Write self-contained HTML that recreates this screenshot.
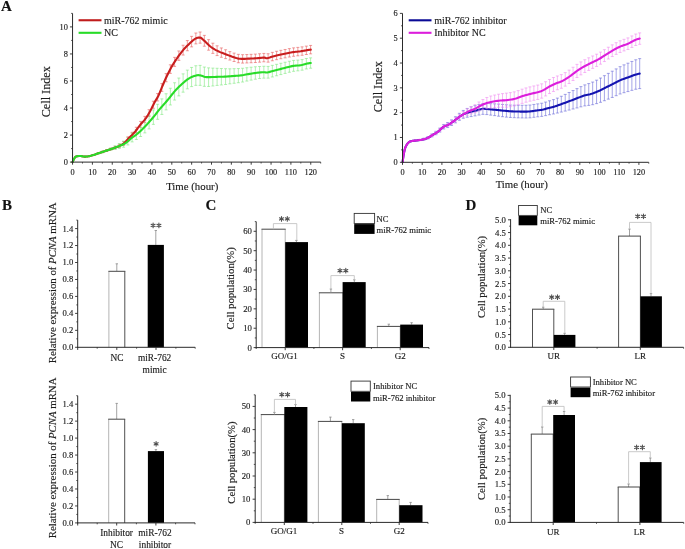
<!DOCTYPE html>
<html><head><meta charset="utf-8"><style>
html,body{margin:0;padding:0;background:#fff;}
svg{display:block;font-family:"Liberation Serif",serif;will-change:transform;filter:blur(0.3px);}
text{stroke:#1c1c1c;stroke-width:0.15px;paint-order:stroke;}
</style></head><body>
<svg width="685" height="549" viewBox="0 0 685 549">
<rect x="0" y="0" width="685" height="549" fill="#fff"/>
<text x="1.00" y="11.30" font-size="15" text-anchor="start" font-weight="bold" fill="#111" >A</text>
<text x="2.00" y="209.90" font-size="15" text-anchor="start" font-weight="bold" fill="#111" >B</text>
<text x="205.60" y="210.10" font-size="15" text-anchor="start" font-weight="bold" fill="#111" >C</text>
<text x="465.60" y="209.80" font-size="15" text-anchor="start" font-weight="bold" fill="#111" >D</text>
<text x="72.55" y="174.60" font-size="8.3" text-anchor="middle" font-weight="normal" fill="#1c1c1c" >0</text>
<text x="92.40" y="174.60" font-size="8.3" text-anchor="middle" font-weight="normal" fill="#1c1c1c" >10</text>
<text x="112.25" y="174.60" font-size="8.3" text-anchor="middle" font-weight="normal" fill="#1c1c1c" >20</text>
<text x="132.10" y="174.60" font-size="8.3" text-anchor="middle" font-weight="normal" fill="#1c1c1c" >30</text>
<text x="151.95" y="174.60" font-size="8.3" text-anchor="middle" font-weight="normal" fill="#1c1c1c" >40</text>
<text x="171.80" y="174.60" font-size="8.3" text-anchor="middle" font-weight="normal" fill="#1c1c1c" >50</text>
<text x="191.65" y="174.60" font-size="8.3" text-anchor="middle" font-weight="normal" fill="#1c1c1c" >60</text>
<text x="211.50" y="174.60" font-size="8.3" text-anchor="middle" font-weight="normal" fill="#1c1c1c" >70</text>
<text x="231.35" y="174.60" font-size="8.3" text-anchor="middle" font-weight="normal" fill="#1c1c1c" >80</text>
<text x="251.20" y="174.60" font-size="8.3" text-anchor="middle" font-weight="normal" fill="#1c1c1c" >90</text>
<text x="271.05" y="174.60" font-size="8.3" text-anchor="middle" font-weight="normal" fill="#1c1c1c" >100</text>
<text x="290.90" y="174.60" font-size="8.3" text-anchor="middle" font-weight="normal" fill="#1c1c1c" >110</text>
<text x="310.75" y="174.60" font-size="8.3" text-anchor="middle" font-weight="normal" fill="#1c1c1c" >120</text>
<text x="192.20" y="189.60" font-size="10.8" text-anchor="middle" font-weight="normal" fill="#1c1c1c" >Time (hour)</text>
<text x="49.80" y="91.70" font-size="12.2" text-anchor="middle" font-weight="normal" fill="#1c1c1c" transform="rotate(-90 49.80 91.70)" >Cell Index</text>
<line x1="310.60" y1="45.43" x2="310.60" y2="53.83" stroke="#e65a5a" stroke-width="0.6" opacity="1.0"/>
<line x1="309.10" y1="45.43" x2="312.10" y2="45.43" stroke="#e65a5a" stroke-width="0.6" opacity="1.0"/>
<line x1="309.10" y1="53.83" x2="312.10" y2="53.83" stroke="#e65a5a" stroke-width="0.6" opacity="1.0"/>
<line x1="306.35" y1="46.11" x2="306.35" y2="54.51" stroke="#e65a5a" stroke-width="0.6" opacity="1.0"/>
<line x1="304.85" y1="46.11" x2="307.85" y2="46.11" stroke="#e65a5a" stroke-width="0.6" opacity="1.0"/>
<line x1="304.85" y1="54.51" x2="307.85" y2="54.51" stroke="#e65a5a" stroke-width="0.6" opacity="1.0"/>
<line x1="302.10" y1="46.87" x2="302.10" y2="55.27" stroke="#e65a5a" stroke-width="0.6" opacity="1.0"/>
<line x1="300.60" y1="46.87" x2="303.60" y2="46.87" stroke="#e65a5a" stroke-width="0.6" opacity="1.0"/>
<line x1="300.60" y1="55.27" x2="303.60" y2="55.27" stroke="#e65a5a" stroke-width="0.6" opacity="1.0"/>
<line x1="297.85" y1="47.40" x2="297.85" y2="55.80" stroke="#e65a5a" stroke-width="0.6" opacity="1.0"/>
<line x1="296.35" y1="47.40" x2="299.35" y2="47.40" stroke="#e65a5a" stroke-width="0.6" opacity="1.0"/>
<line x1="296.35" y1="55.80" x2="299.35" y2="55.80" stroke="#e65a5a" stroke-width="0.6" opacity="1.0"/>
<line x1="293.60" y1="47.86" x2="293.60" y2="56.26" stroke="#e65a5a" stroke-width="0.6" opacity="1.0"/>
<line x1="292.10" y1="47.86" x2="295.10" y2="47.86" stroke="#e65a5a" stroke-width="0.6" opacity="1.0"/>
<line x1="292.10" y1="56.26" x2="295.10" y2="56.26" stroke="#e65a5a" stroke-width="0.6" opacity="1.0"/>
<line x1="289.35" y1="48.62" x2="289.35" y2="57.02" stroke="#e65a5a" stroke-width="0.6" opacity="1.0"/>
<line x1="287.85" y1="48.62" x2="290.85" y2="48.62" stroke="#e65a5a" stroke-width="0.6" opacity="1.0"/>
<line x1="287.85" y1="57.02" x2="290.85" y2="57.02" stroke="#e65a5a" stroke-width="0.6" opacity="1.0"/>
<line x1="285.10" y1="49.48" x2="285.10" y2="57.88" stroke="#e65a5a" stroke-width="0.6" opacity="1.0"/>
<line x1="283.60" y1="49.48" x2="286.60" y2="49.48" stroke="#e65a5a" stroke-width="0.6" opacity="1.0"/>
<line x1="283.60" y1="57.88" x2="286.60" y2="57.88" stroke="#e65a5a" stroke-width="0.6" opacity="1.0"/>
<line x1="280.85" y1="50.34" x2="280.85" y2="58.74" stroke="#e65a5a" stroke-width="0.6" opacity="1.0"/>
<line x1="279.35" y1="50.34" x2="282.35" y2="50.34" stroke="#e65a5a" stroke-width="0.6" opacity="1.0"/>
<line x1="279.35" y1="58.74" x2="282.35" y2="58.74" stroke="#e65a5a" stroke-width="0.6" opacity="1.0"/>
<line x1="276.60" y1="51.27" x2="276.60" y2="59.67" stroke="#e65a5a" stroke-width="0.6" opacity="1.0"/>
<line x1="275.10" y1="51.27" x2="278.10" y2="51.27" stroke="#e65a5a" stroke-width="0.6" opacity="1.0"/>
<line x1="275.10" y1="59.67" x2="278.10" y2="59.67" stroke="#e65a5a" stroke-width="0.6" opacity="1.0"/>
<line x1="272.35" y1="52.37" x2="272.35" y2="60.77" stroke="#e65a5a" stroke-width="0.6" opacity="1.0"/>
<line x1="270.85" y1="52.37" x2="273.85" y2="52.37" stroke="#e65a5a" stroke-width="0.6" opacity="1.0"/>
<line x1="270.85" y1="60.77" x2="273.85" y2="60.77" stroke="#e65a5a" stroke-width="0.6" opacity="1.0"/>
<line x1="268.10" y1="53.75" x2="268.10" y2="62.15" stroke="#e65a5a" stroke-width="0.6" opacity="1.0"/>
<line x1="266.60" y1="53.75" x2="269.60" y2="53.75" stroke="#e65a5a" stroke-width="0.6" opacity="1.0"/>
<line x1="266.60" y1="62.15" x2="269.60" y2="62.15" stroke="#e65a5a" stroke-width="0.6" opacity="1.0"/>
<line x1="263.85" y1="53.41" x2="263.85" y2="61.81" stroke="#e65a5a" stroke-width="0.6" opacity="1.0"/>
<line x1="262.35" y1="53.41" x2="265.35" y2="53.41" stroke="#e65a5a" stroke-width="0.6" opacity="1.0"/>
<line x1="262.35" y1="61.81" x2="265.35" y2="61.81" stroke="#e65a5a" stroke-width="0.6" opacity="1.0"/>
<line x1="259.60" y1="53.76" x2="259.60" y2="62.16" stroke="#e65a5a" stroke-width="0.6" opacity="1.0"/>
<line x1="258.10" y1="53.76" x2="261.10" y2="53.76" stroke="#e65a5a" stroke-width="0.6" opacity="1.0"/>
<line x1="258.10" y1="62.16" x2="261.10" y2="62.16" stroke="#e65a5a" stroke-width="0.6" opacity="1.0"/>
<line x1="255.35" y1="54.10" x2="255.35" y2="62.50" stroke="#e65a5a" stroke-width="0.6" opacity="1.0"/>
<line x1="253.85" y1="54.10" x2="256.85" y2="54.10" stroke="#e65a5a" stroke-width="0.6" opacity="1.0"/>
<line x1="253.85" y1="62.50" x2="256.85" y2="62.50" stroke="#e65a5a" stroke-width="0.6" opacity="1.0"/>
<line x1="251.10" y1="54.34" x2="251.10" y2="62.74" stroke="#e65a5a" stroke-width="0.6" opacity="1.0"/>
<line x1="249.60" y1="54.34" x2="252.60" y2="54.34" stroke="#e65a5a" stroke-width="0.6" opacity="1.0"/>
<line x1="249.60" y1="62.74" x2="252.60" y2="62.74" stroke="#e65a5a" stroke-width="0.6" opacity="1.0"/>
<line x1="246.85" y1="54.54" x2="246.85" y2="62.94" stroke="#e65a5a" stroke-width="0.6" opacity="1.0"/>
<line x1="245.35" y1="54.54" x2="248.35" y2="54.54" stroke="#e65a5a" stroke-width="0.6" opacity="1.0"/>
<line x1="245.35" y1="62.94" x2="248.35" y2="62.94" stroke="#e65a5a" stroke-width="0.6" opacity="1.0"/>
<line x1="242.60" y1="54.69" x2="242.60" y2="63.09" stroke="#e65a5a" stroke-width="0.6" opacity="1.0"/>
<line x1="241.10" y1="54.69" x2="244.10" y2="54.69" stroke="#e65a5a" stroke-width="0.6" opacity="1.0"/>
<line x1="241.10" y1="63.09" x2="244.10" y2="63.09" stroke="#e65a5a" stroke-width="0.6" opacity="1.0"/>
<line x1="238.35" y1="54.34" x2="238.35" y2="62.74" stroke="#e65a5a" stroke-width="0.6" opacity="1.0"/>
<line x1="236.85" y1="54.34" x2="239.85" y2="54.34" stroke="#e65a5a" stroke-width="0.6" opacity="1.0"/>
<line x1="236.85" y1="62.74" x2="239.85" y2="62.74" stroke="#e65a5a" stroke-width="0.6" opacity="1.0"/>
<line x1="234.10" y1="53.10" x2="234.10" y2="61.50" stroke="#e65a5a" stroke-width="0.6" opacity="1.0"/>
<line x1="232.60" y1="53.10" x2="235.60" y2="53.10" stroke="#e65a5a" stroke-width="0.6" opacity="1.0"/>
<line x1="232.60" y1="61.50" x2="235.60" y2="61.50" stroke="#e65a5a" stroke-width="0.6" opacity="1.0"/>
<line x1="229.85" y1="51.62" x2="229.85" y2="60.04" stroke="#e65a5a" stroke-width="0.6" opacity="1.0"/>
<line x1="228.35" y1="51.62" x2="231.35" y2="51.62" stroke="#e65a5a" stroke-width="0.6" opacity="1.0"/>
<line x1="228.35" y1="60.04" x2="231.35" y2="60.04" stroke="#e65a5a" stroke-width="0.6" opacity="1.0"/>
<line x1="225.60" y1="49.77" x2="225.60" y2="58.63" stroke="#e65a5a" stroke-width="0.6" opacity="1.0"/>
<line x1="224.10" y1="49.77" x2="227.10" y2="49.77" stroke="#e65a5a" stroke-width="0.6" opacity="1.0"/>
<line x1="224.10" y1="58.63" x2="227.10" y2="58.63" stroke="#e65a5a" stroke-width="0.6" opacity="1.0"/>
<line x1="221.35" y1="47.96" x2="221.35" y2="57.28" stroke="#e65a5a" stroke-width="0.6" opacity="1.0"/>
<line x1="219.85" y1="47.96" x2="222.85" y2="47.96" stroke="#e65a5a" stroke-width="0.6" opacity="1.0"/>
<line x1="219.85" y1="57.28" x2="222.85" y2="57.28" stroke="#e65a5a" stroke-width="0.6" opacity="1.0"/>
<line x1="217.10" y1="45.81" x2="217.10" y2="55.59" stroke="#e65a5a" stroke-width="0.6" opacity="1.0"/>
<line x1="215.60" y1="45.81" x2="218.60" y2="45.81" stroke="#e65a5a" stroke-width="0.6" opacity="1.0"/>
<line x1="215.60" y1="55.59" x2="218.60" y2="55.59" stroke="#e65a5a" stroke-width="0.6" opacity="1.0"/>
<line x1="212.85" y1="43.20" x2="212.85" y2="53.38" stroke="#e65a5a" stroke-width="0.6" opacity="1.0"/>
<line x1="211.35" y1="43.20" x2="214.35" y2="43.20" stroke="#e65a5a" stroke-width="0.6" opacity="1.0"/>
<line x1="211.35" y1="53.38" x2="214.35" y2="53.38" stroke="#e65a5a" stroke-width="0.6" opacity="1.0"/>
<line x1="208.60" y1="39.66" x2="208.60" y2="50.17" stroke="#e65a5a" stroke-width="0.6" opacity="1.0"/>
<line x1="207.10" y1="39.66" x2="210.10" y2="39.66" stroke="#e65a5a" stroke-width="0.6" opacity="1.0"/>
<line x1="207.10" y1="50.17" x2="210.10" y2="50.17" stroke="#e65a5a" stroke-width="0.6" opacity="1.0"/>
<line x1="204.35" y1="35.37" x2="204.35" y2="46.22" stroke="#e65a5a" stroke-width="0.6" opacity="1.0"/>
<line x1="202.85" y1="35.37" x2="205.85" y2="35.37" stroke="#e65a5a" stroke-width="0.6" opacity="1.0"/>
<line x1="202.85" y1="46.22" x2="205.85" y2="46.22" stroke="#e65a5a" stroke-width="0.6" opacity="1.0"/>
<line x1="200.10" y1="32.00" x2="200.10" y2="43.20" stroke="#e65a5a" stroke-width="0.6" opacity="1.0"/>
<line x1="198.60" y1="32.00" x2="201.60" y2="32.00" stroke="#e65a5a" stroke-width="0.6" opacity="1.0"/>
<line x1="198.60" y1="43.20" x2="201.60" y2="43.20" stroke="#e65a5a" stroke-width="0.6" opacity="1.0"/>
<line x1="195.85" y1="33.02" x2="195.85" y2="43.89" stroke="#e65a5a" stroke-width="0.6" opacity="1.0"/>
<line x1="194.35" y1="33.02" x2="197.35" y2="33.02" stroke="#e65a5a" stroke-width="0.6" opacity="1.0"/>
<line x1="194.35" y1="43.89" x2="197.35" y2="43.89" stroke="#e65a5a" stroke-width="0.6" opacity="1.0"/>
<line x1="191.60" y1="36.36" x2="191.60" y2="46.89" stroke="#e65a5a" stroke-width="0.6" opacity="1.0"/>
<line x1="190.10" y1="36.36" x2="193.10" y2="36.36" stroke="#e65a5a" stroke-width="0.6" opacity="1.0"/>
<line x1="190.10" y1="46.89" x2="193.10" y2="46.89" stroke="#e65a5a" stroke-width="0.6" opacity="1.0"/>
<line x1="187.35" y1="40.56" x2="187.35" y2="50.75" stroke="#e65a5a" stroke-width="0.6" opacity="1.0"/>
<line x1="185.85" y1="40.56" x2="188.85" y2="40.56" stroke="#e65a5a" stroke-width="0.6" opacity="1.0"/>
<line x1="185.85" y1="50.75" x2="188.85" y2="50.75" stroke="#e65a5a" stroke-width="0.6" opacity="1.0"/>
<line x1="183.10" y1="45.23" x2="183.10" y2="55.05" stroke="#e65a5a" stroke-width="0.6" opacity="1.0"/>
<line x1="181.60" y1="45.23" x2="184.60" y2="45.23" stroke="#e65a5a" stroke-width="0.6" opacity="1.0"/>
<line x1="181.60" y1="55.05" x2="184.60" y2="55.05" stroke="#e65a5a" stroke-width="0.6" opacity="1.0"/>
<line x1="178.85" y1="50.98" x2="178.85" y2="60.39" stroke="#e65a5a" stroke-width="0.6" opacity="1.0"/>
<line x1="177.35" y1="50.98" x2="180.35" y2="50.98" stroke="#e65a5a" stroke-width="0.6" opacity="1.0"/>
<line x1="177.35" y1="60.39" x2="180.35" y2="60.39" stroke="#e65a5a" stroke-width="0.6" opacity="1.0"/>
<line x1="174.60" y1="57.36" x2="174.60" y2="66.36" stroke="#e65a5a" stroke-width="0.6" opacity="1.0"/>
<line x1="173.10" y1="57.36" x2="176.10" y2="57.36" stroke="#e65a5a" stroke-width="0.6" opacity="1.0"/>
<line x1="173.10" y1="66.36" x2="176.10" y2="66.36" stroke="#e65a5a" stroke-width="0.6" opacity="1.0"/>
<line x1="170.35" y1="64.80" x2="170.35" y2="73.39" stroke="#e65a5a" stroke-width="0.6" opacity="1.0"/>
<line x1="168.85" y1="64.80" x2="171.85" y2="64.80" stroke="#e65a5a" stroke-width="0.6" opacity="1.0"/>
<line x1="168.85" y1="73.39" x2="171.85" y2="73.39" stroke="#e65a5a" stroke-width="0.6" opacity="1.0"/>
<line x1="166.10" y1="73.58" x2="166.10" y2="81.76" stroke="#e65a5a" stroke-width="0.6" opacity="1.0"/>
<line x1="164.60" y1="73.58" x2="167.60" y2="73.58" stroke="#e65a5a" stroke-width="0.6" opacity="1.0"/>
<line x1="164.60" y1="81.76" x2="167.60" y2="81.76" stroke="#e65a5a" stroke-width="0.6" opacity="1.0"/>
<line x1="161.85" y1="83.59" x2="161.85" y2="91.37" stroke="#e65a5a" stroke-width="0.6" opacity="1.0"/>
<line x1="160.35" y1="83.59" x2="163.35" y2="83.59" stroke="#e65a5a" stroke-width="0.6" opacity="1.0"/>
<line x1="160.35" y1="91.37" x2="163.35" y2="91.37" stroke="#e65a5a" stroke-width="0.6" opacity="1.0"/>
<line x1="157.60" y1="93.55" x2="157.60" y2="100.94" stroke="#e65a5a" stroke-width="0.6" opacity="1.0"/>
<line x1="156.10" y1="93.55" x2="159.10" y2="93.55" stroke="#e65a5a" stroke-width="0.6" opacity="1.0"/>
<line x1="156.10" y1="100.94" x2="159.10" y2="100.94" stroke="#e65a5a" stroke-width="0.6" opacity="1.0"/>
<line x1="153.35" y1="101.24" x2="153.35" y2="108.27" stroke="#e65a5a" stroke-width="0.6" opacity="1.0"/>
<line x1="151.85" y1="101.24" x2="154.85" y2="101.24" stroke="#e65a5a" stroke-width="0.6" opacity="1.0"/>
<line x1="151.85" y1="108.27" x2="154.85" y2="108.27" stroke="#e65a5a" stroke-width="0.6" opacity="1.0"/>
<line x1="149.10" y1="109.68" x2="149.10" y2="116.33" stroke="#e65a5a" stroke-width="0.6" opacity="1.0"/>
<line x1="147.60" y1="109.68" x2="150.60" y2="109.68" stroke="#e65a5a" stroke-width="0.6" opacity="1.0"/>
<line x1="147.60" y1="116.33" x2="150.60" y2="116.33" stroke="#e65a5a" stroke-width="0.6" opacity="1.0"/>
<line x1="144.85" y1="116.40" x2="144.85" y2="122.68" stroke="#e65a5a" stroke-width="0.6" opacity="1.0"/>
<line x1="143.35" y1="116.40" x2="146.35" y2="116.40" stroke="#e65a5a" stroke-width="0.6" opacity="1.0"/>
<line x1="143.35" y1="122.68" x2="146.35" y2="122.68" stroke="#e65a5a" stroke-width="0.6" opacity="1.0"/>
<line x1="140.60" y1="121.42" x2="140.60" y2="127.34" stroke="#e65a5a" stroke-width="0.6" opacity="1.0"/>
<line x1="139.10" y1="121.42" x2="142.10" y2="121.42" stroke="#e65a5a" stroke-width="0.6" opacity="1.0"/>
<line x1="139.10" y1="127.34" x2="142.10" y2="127.34" stroke="#e65a5a" stroke-width="0.6" opacity="1.0"/>
<line x1="136.35" y1="127.29" x2="136.35" y2="132.84" stroke="#e65a5a" stroke-width="0.6" opacity="1.0"/>
<line x1="134.85" y1="127.29" x2="137.85" y2="127.29" stroke="#e65a5a" stroke-width="0.6" opacity="1.0"/>
<line x1="134.85" y1="132.84" x2="137.85" y2="132.84" stroke="#e65a5a" stroke-width="0.6" opacity="1.0"/>
<line x1="132.10" y1="132.31" x2="132.10" y2="137.49" stroke="#e65a5a" stroke-width="0.6" opacity="1.0"/>
<line x1="130.60" y1="132.31" x2="133.60" y2="132.31" stroke="#e65a5a" stroke-width="0.6" opacity="1.0"/>
<line x1="130.60" y1="137.49" x2="133.60" y2="137.49" stroke="#e65a5a" stroke-width="0.6" opacity="1.0"/>
<line x1="127.85" y1="136.85" x2="127.85" y2="141.48" stroke="#e65a5a" stroke-width="0.6" opacity="1.0"/>
<line x1="126.35" y1="136.85" x2="129.35" y2="136.85" stroke="#e65a5a" stroke-width="0.6" opacity="1.0"/>
<line x1="126.35" y1="141.48" x2="129.35" y2="141.48" stroke="#e65a5a" stroke-width="0.6" opacity="1.0"/>
<line x1="123.60" y1="141.51" x2="123.60" y2="145.42" stroke="#e65a5a" stroke-width="0.6" opacity="1.0"/>
<line x1="122.10" y1="141.51" x2="125.10" y2="141.51" stroke="#e65a5a" stroke-width="0.6" opacity="1.0"/>
<line x1="122.10" y1="145.42" x2="125.10" y2="145.42" stroke="#e65a5a" stroke-width="0.6" opacity="1.0"/>
<line x1="119.35" y1="144.34" x2="119.35" y2="147.53" stroke="#e65a5a" stroke-width="0.6" opacity="1.0"/>
<line x1="117.85" y1="144.34" x2="120.85" y2="144.34" stroke="#e65a5a" stroke-width="0.6" opacity="1.0"/>
<line x1="117.85" y1="147.53" x2="120.85" y2="147.53" stroke="#e65a5a" stroke-width="0.6" opacity="1.0"/>
<line x1="115.10" y1="146.40" x2="115.10" y2="148.86" stroke="#e65a5a" stroke-width="0.6" opacity="1.0"/>
<line x1="113.60" y1="146.40" x2="116.60" y2="146.40" stroke="#e65a5a" stroke-width="0.6" opacity="1.0"/>
<line x1="113.60" y1="148.86" x2="116.60" y2="148.86" stroke="#e65a5a" stroke-width="0.6" opacity="1.0"/>
<line x1="110.85" y1="148.25" x2="110.85" y2="150.00" stroke="#e65a5a" stroke-width="0.6" opacity="1.0"/>
<line x1="109.35" y1="148.25" x2="112.35" y2="148.25" stroke="#e65a5a" stroke-width="0.6" opacity="1.0"/>
<line x1="109.35" y1="150.00" x2="112.35" y2="150.00" stroke="#e65a5a" stroke-width="0.6" opacity="1.0"/>
<line x1="106.60" y1="149.84" x2="106.60" y2="151.29" stroke="#e65a5a" stroke-width="0.6" opacity="1.0"/>
<line x1="105.10" y1="149.84" x2="108.10" y2="149.84" stroke="#e65a5a" stroke-width="0.6" opacity="1.0"/>
<line x1="105.10" y1="151.29" x2="108.10" y2="151.29" stroke="#e65a5a" stroke-width="0.6" opacity="1.0"/>
<line x1="102.35" y1="151.31" x2="102.35" y2="152.59" stroke="#e65a5a" stroke-width="0.6" opacity="1.0"/>
<line x1="100.85" y1="151.31" x2="103.85" y2="151.31" stroke="#e65a5a" stroke-width="0.6" opacity="1.0"/>
<line x1="100.85" y1="152.59" x2="103.85" y2="152.59" stroke="#e65a5a" stroke-width="0.6" opacity="1.0"/>
<line x1="310.60" y1="57.87" x2="310.60" y2="68.19" stroke="#7ee87e" stroke-width="0.6" opacity="1.0"/>
<line x1="309.10" y1="57.87" x2="312.10" y2="57.87" stroke="#7ee87e" stroke-width="0.6" opacity="1.0"/>
<line x1="309.10" y1="68.19" x2="312.10" y2="68.19" stroke="#7ee87e" stroke-width="0.6" opacity="1.0"/>
<line x1="306.35" y1="58.48" x2="306.35" y2="68.94" stroke="#7ee87e" stroke-width="0.6" opacity="1.0"/>
<line x1="304.85" y1="58.48" x2="307.85" y2="58.48" stroke="#7ee87e" stroke-width="0.6" opacity="1.0"/>
<line x1="304.85" y1="68.94" x2="307.85" y2="68.94" stroke="#7ee87e" stroke-width="0.6" opacity="1.0"/>
<line x1="302.10" y1="59.58" x2="302.10" y2="70.18" stroke="#7ee87e" stroke-width="0.6" opacity="1.0"/>
<line x1="300.60" y1="59.58" x2="303.60" y2="59.58" stroke="#7ee87e" stroke-width="0.6" opacity="1.0"/>
<line x1="300.60" y1="70.18" x2="303.60" y2="70.18" stroke="#7ee87e" stroke-width="0.6" opacity="1.0"/>
<line x1="297.85" y1="60.11" x2="297.85" y2="70.85" stroke="#7ee87e" stroke-width="0.6" opacity="1.0"/>
<line x1="296.35" y1="60.11" x2="299.35" y2="60.11" stroke="#7ee87e" stroke-width="0.6" opacity="1.0"/>
<line x1="296.35" y1="70.85" x2="299.35" y2="70.85" stroke="#7ee87e" stroke-width="0.6" opacity="1.0"/>
<line x1="293.60" y1="60.42" x2="293.60" y2="71.30" stroke="#7ee87e" stroke-width="0.6" opacity="1.0"/>
<line x1="292.10" y1="60.42" x2="295.10" y2="60.42" stroke="#7ee87e" stroke-width="0.6" opacity="1.0"/>
<line x1="292.10" y1="71.30" x2="295.10" y2="71.30" stroke="#7ee87e" stroke-width="0.6" opacity="1.0"/>
<line x1="289.35" y1="61.24" x2="289.35" y2="72.26" stroke="#7ee87e" stroke-width="0.6" opacity="1.0"/>
<line x1="287.85" y1="61.24" x2="290.85" y2="61.24" stroke="#7ee87e" stroke-width="0.6" opacity="1.0"/>
<line x1="287.85" y1="72.26" x2="290.85" y2="72.26" stroke="#7ee87e" stroke-width="0.6" opacity="1.0"/>
<line x1="285.10" y1="62.24" x2="285.10" y2="73.41" stroke="#7ee87e" stroke-width="0.6" opacity="1.0"/>
<line x1="283.60" y1="62.24" x2="286.60" y2="62.24" stroke="#7ee87e" stroke-width="0.6" opacity="1.0"/>
<line x1="283.60" y1="73.41" x2="286.60" y2="73.41" stroke="#7ee87e" stroke-width="0.6" opacity="1.0"/>
<line x1="280.85" y1="63.28" x2="280.85" y2="74.59" stroke="#7ee87e" stroke-width="0.6" opacity="1.0"/>
<line x1="279.35" y1="63.28" x2="282.35" y2="63.28" stroke="#7ee87e" stroke-width="0.6" opacity="1.0"/>
<line x1="279.35" y1="74.59" x2="282.35" y2="74.59" stroke="#7ee87e" stroke-width="0.6" opacity="1.0"/>
<line x1="276.60" y1="64.32" x2="276.60" y2="75.77" stroke="#7ee87e" stroke-width="0.6" opacity="1.0"/>
<line x1="275.10" y1="64.32" x2="278.10" y2="64.32" stroke="#7ee87e" stroke-width="0.6" opacity="1.0"/>
<line x1="275.10" y1="75.77" x2="278.10" y2="75.77" stroke="#7ee87e" stroke-width="0.6" opacity="1.0"/>
<line x1="272.35" y1="65.35" x2="272.35" y2="76.94" stroke="#7ee87e" stroke-width="0.6" opacity="1.0"/>
<line x1="270.85" y1="65.35" x2="273.85" y2="65.35" stroke="#7ee87e" stroke-width="0.6" opacity="1.0"/>
<line x1="270.85" y1="76.94" x2="273.85" y2="76.94" stroke="#7ee87e" stroke-width="0.6" opacity="1.0"/>
<line x1="268.10" y1="66.42" x2="268.10" y2="78.15" stroke="#7ee87e" stroke-width="0.6" opacity="1.0"/>
<line x1="266.60" y1="66.42" x2="269.60" y2="66.42" stroke="#7ee87e" stroke-width="0.6" opacity="1.0"/>
<line x1="266.60" y1="78.15" x2="269.60" y2="78.15" stroke="#7ee87e" stroke-width="0.6" opacity="1.0"/>
<line x1="263.85" y1="66.28" x2="263.85" y2="78.15" stroke="#7ee87e" stroke-width="0.6" opacity="1.0"/>
<line x1="262.35" y1="66.28" x2="265.35" y2="66.28" stroke="#7ee87e" stroke-width="0.6" opacity="1.0"/>
<line x1="262.35" y1="78.15" x2="265.35" y2="78.15" stroke="#7ee87e" stroke-width="0.6" opacity="1.0"/>
<line x1="259.60" y1="66.50" x2="259.60" y2="78.54" stroke="#7ee87e" stroke-width="0.6" opacity="1.0"/>
<line x1="258.10" y1="66.50" x2="261.10" y2="66.50" stroke="#7ee87e" stroke-width="0.6" opacity="1.0"/>
<line x1="258.10" y1="78.54" x2="261.10" y2="78.54" stroke="#7ee87e" stroke-width="0.6" opacity="1.0"/>
<line x1="255.35" y1="66.77" x2="255.35" y2="79.23" stroke="#7ee87e" stroke-width="0.6" opacity="1.0"/>
<line x1="253.85" y1="66.77" x2="256.85" y2="66.77" stroke="#7ee87e" stroke-width="0.6" opacity="1.0"/>
<line x1="253.85" y1="79.23" x2="256.85" y2="79.23" stroke="#7ee87e" stroke-width="0.6" opacity="1.0"/>
<line x1="251.10" y1="67.21" x2="251.10" y2="80.10" stroke="#7ee87e" stroke-width="0.6" opacity="1.0"/>
<line x1="249.60" y1="67.21" x2="252.60" y2="67.21" stroke="#7ee87e" stroke-width="0.6" opacity="1.0"/>
<line x1="249.60" y1="80.10" x2="252.60" y2="80.10" stroke="#7ee87e" stroke-width="0.6" opacity="1.0"/>
<line x1="246.85" y1="67.74" x2="246.85" y2="81.06" stroke="#7ee87e" stroke-width="0.6" opacity="1.0"/>
<line x1="245.35" y1="67.74" x2="248.35" y2="67.74" stroke="#7ee87e" stroke-width="0.6" opacity="1.0"/>
<line x1="245.35" y1="81.06" x2="248.35" y2="81.06" stroke="#7ee87e" stroke-width="0.6" opacity="1.0"/>
<line x1="242.60" y1="68.28" x2="242.60" y2="82.02" stroke="#7ee87e" stroke-width="0.6" opacity="1.0"/>
<line x1="241.10" y1="68.28" x2="244.10" y2="68.28" stroke="#7ee87e" stroke-width="0.6" opacity="1.0"/>
<line x1="241.10" y1="82.02" x2="244.10" y2="82.02" stroke="#7ee87e" stroke-width="0.6" opacity="1.0"/>
<line x1="238.35" y1="68.54" x2="238.35" y2="82.71" stroke="#7ee87e" stroke-width="0.6" opacity="1.0"/>
<line x1="236.85" y1="68.54" x2="239.85" y2="68.54" stroke="#7ee87e" stroke-width="0.6" opacity="1.0"/>
<line x1="236.85" y1="82.71" x2="239.85" y2="82.71" stroke="#7ee87e" stroke-width="0.6" opacity="1.0"/>
<line x1="234.10" y1="68.68" x2="234.10" y2="83.27" stroke="#7ee87e" stroke-width="0.6" opacity="1.0"/>
<line x1="232.60" y1="68.68" x2="235.60" y2="68.68" stroke="#7ee87e" stroke-width="0.6" opacity="1.0"/>
<line x1="232.60" y1="83.27" x2="235.60" y2="83.27" stroke="#7ee87e" stroke-width="0.6" opacity="1.0"/>
<line x1="229.85" y1="68.80" x2="229.85" y2="83.83" stroke="#7ee87e" stroke-width="0.6" opacity="1.0"/>
<line x1="228.35" y1="68.80" x2="231.35" y2="68.80" stroke="#7ee87e" stroke-width="0.6" opacity="1.0"/>
<line x1="228.35" y1="83.83" x2="231.35" y2="83.83" stroke="#7ee87e" stroke-width="0.6" opacity="1.0"/>
<line x1="225.60" y1="68.73" x2="225.60" y2="84.47" stroke="#7ee87e" stroke-width="0.6" opacity="1.0"/>
<line x1="224.10" y1="68.73" x2="227.10" y2="68.73" stroke="#7ee87e" stroke-width="0.6" opacity="1.0"/>
<line x1="224.10" y1="84.47" x2="227.10" y2="84.47" stroke="#7ee87e" stroke-width="0.6" opacity="1.0"/>
<line x1="221.35" y1="68.52" x2="221.35" y2="84.96" stroke="#7ee87e" stroke-width="0.6" opacity="1.0"/>
<line x1="219.85" y1="68.52" x2="222.85" y2="68.52" stroke="#7ee87e" stroke-width="0.6" opacity="1.0"/>
<line x1="219.85" y1="84.96" x2="222.85" y2="84.96" stroke="#7ee87e" stroke-width="0.6" opacity="1.0"/>
<line x1="217.10" y1="68.27" x2="217.10" y2="85.42" stroke="#7ee87e" stroke-width="0.6" opacity="1.0"/>
<line x1="215.60" y1="68.27" x2="218.60" y2="68.27" stroke="#7ee87e" stroke-width="0.6" opacity="1.0"/>
<line x1="215.60" y1="85.42" x2="218.60" y2="85.42" stroke="#7ee87e" stroke-width="0.6" opacity="1.0"/>
<line x1="212.85" y1="68.11" x2="212.85" y2="85.97" stroke="#7ee87e" stroke-width="0.6" opacity="1.0"/>
<line x1="211.35" y1="68.11" x2="214.35" y2="68.11" stroke="#7ee87e" stroke-width="0.6" opacity="1.0"/>
<line x1="211.35" y1="85.97" x2="214.35" y2="85.97" stroke="#7ee87e" stroke-width="0.6" opacity="1.0"/>
<line x1="208.60" y1="67.87" x2="208.60" y2="86.44" stroke="#7ee87e" stroke-width="0.6" opacity="1.0"/>
<line x1="207.10" y1="67.87" x2="210.10" y2="67.87" stroke="#7ee87e" stroke-width="0.6" opacity="1.0"/>
<line x1="207.10" y1="86.44" x2="210.10" y2="86.44" stroke="#7ee87e" stroke-width="0.6" opacity="1.0"/>
<line x1="204.35" y1="67.06" x2="204.35" y2="86.33" stroke="#7ee87e" stroke-width="0.6" opacity="1.0"/>
<line x1="202.85" y1="67.06" x2="205.85" y2="67.06" stroke="#7ee87e" stroke-width="0.6" opacity="1.0"/>
<line x1="202.85" y1="86.33" x2="205.85" y2="86.33" stroke="#7ee87e" stroke-width="0.6" opacity="1.0"/>
<line x1="200.10" y1="65.38" x2="200.10" y2="85.37" stroke="#7ee87e" stroke-width="0.6" opacity="1.0"/>
<line x1="198.60" y1="65.38" x2="201.60" y2="65.38" stroke="#7ee87e" stroke-width="0.6" opacity="1.0"/>
<line x1="198.60" y1="85.37" x2="201.60" y2="85.37" stroke="#7ee87e" stroke-width="0.6" opacity="1.0"/>
<line x1="195.85" y1="65.75" x2="195.85" y2="85.34" stroke="#7ee87e" stroke-width="0.6" opacity="1.0"/>
<line x1="194.35" y1="65.75" x2="197.35" y2="65.75" stroke="#7ee87e" stroke-width="0.6" opacity="1.0"/>
<line x1="194.35" y1="85.34" x2="197.35" y2="85.34" stroke="#7ee87e" stroke-width="0.6" opacity="1.0"/>
<line x1="191.60" y1="67.44" x2="191.60" y2="86.60" stroke="#7ee87e" stroke-width="0.6" opacity="1.0"/>
<line x1="190.10" y1="67.44" x2="193.10" y2="67.44" stroke="#7ee87e" stroke-width="0.6" opacity="1.0"/>
<line x1="190.10" y1="86.60" x2="193.10" y2="86.60" stroke="#7ee87e" stroke-width="0.6" opacity="1.0"/>
<line x1="187.35" y1="70.11" x2="187.35" y2="88.85" stroke="#7ee87e" stroke-width="0.6" opacity="1.0"/>
<line x1="185.85" y1="70.11" x2="188.85" y2="70.11" stroke="#7ee87e" stroke-width="0.6" opacity="1.0"/>
<line x1="185.85" y1="88.85" x2="188.85" y2="88.85" stroke="#7ee87e" stroke-width="0.6" opacity="1.0"/>
<line x1="183.10" y1="73.86" x2="183.10" y2="92.17" stroke="#7ee87e" stroke-width="0.6" opacity="1.0"/>
<line x1="181.60" y1="73.86" x2="184.60" y2="73.86" stroke="#7ee87e" stroke-width="0.6" opacity="1.0"/>
<line x1="181.60" y1="92.17" x2="184.60" y2="92.17" stroke="#7ee87e" stroke-width="0.6" opacity="1.0"/>
<line x1="178.85" y1="78.05" x2="178.85" y2="95.89" stroke="#7ee87e" stroke-width="0.6" opacity="1.0"/>
<line x1="177.35" y1="78.05" x2="180.35" y2="78.05" stroke="#7ee87e" stroke-width="0.6" opacity="1.0"/>
<line x1="177.35" y1="95.89" x2="180.35" y2="95.89" stroke="#7ee87e" stroke-width="0.6" opacity="1.0"/>
<line x1="174.60" y1="82.76" x2="174.60" y2="100.04" stroke="#7ee87e" stroke-width="0.6" opacity="1.0"/>
<line x1="173.10" y1="82.76" x2="176.10" y2="82.76" stroke="#7ee87e" stroke-width="0.6" opacity="1.0"/>
<line x1="173.10" y1="100.04" x2="176.10" y2="100.04" stroke="#7ee87e" stroke-width="0.6" opacity="1.0"/>
<line x1="170.35" y1="88.26" x2="170.35" y2="104.97" stroke="#7ee87e" stroke-width="0.6" opacity="1.0"/>
<line x1="168.85" y1="88.26" x2="171.85" y2="88.26" stroke="#7ee87e" stroke-width="0.6" opacity="1.0"/>
<line x1="168.85" y1="104.97" x2="171.85" y2="104.97" stroke="#7ee87e" stroke-width="0.6" opacity="1.0"/>
<line x1="166.10" y1="93.75" x2="166.10" y2="109.90" stroke="#7ee87e" stroke-width="0.6" opacity="1.0"/>
<line x1="164.60" y1="93.75" x2="167.60" y2="93.75" stroke="#7ee87e" stroke-width="0.6" opacity="1.0"/>
<line x1="164.60" y1="109.90" x2="167.60" y2="109.90" stroke="#7ee87e" stroke-width="0.6" opacity="1.0"/>
<line x1="161.85" y1="98.86" x2="161.85" y2="114.44" stroke="#7ee87e" stroke-width="0.6" opacity="1.0"/>
<line x1="160.35" y1="98.86" x2="163.35" y2="98.86" stroke="#7ee87e" stroke-width="0.6" opacity="1.0"/>
<line x1="160.35" y1="114.44" x2="163.35" y2="114.44" stroke="#7ee87e" stroke-width="0.6" opacity="1.0"/>
<line x1="157.60" y1="104.29" x2="157.60" y2="119.31" stroke="#7ee87e" stroke-width="0.6" opacity="1.0"/>
<line x1="156.10" y1="104.29" x2="159.10" y2="104.29" stroke="#7ee87e" stroke-width="0.6" opacity="1.0"/>
<line x1="156.10" y1="119.31" x2="159.10" y2="119.31" stroke="#7ee87e" stroke-width="0.6" opacity="1.0"/>
<line x1="153.35" y1="109.91" x2="153.35" y2="124.36" stroke="#7ee87e" stroke-width="0.6" opacity="1.0"/>
<line x1="151.85" y1="109.91" x2="154.85" y2="109.91" stroke="#7ee87e" stroke-width="0.6" opacity="1.0"/>
<line x1="151.85" y1="124.36" x2="154.85" y2="124.36" stroke="#7ee87e" stroke-width="0.6" opacity="1.0"/>
<line x1="149.10" y1="115.22" x2="149.10" y2="128.95" stroke="#7ee87e" stroke-width="0.6" opacity="1.0"/>
<line x1="147.60" y1="115.22" x2="150.60" y2="115.22" stroke="#7ee87e" stroke-width="0.6" opacity="1.0"/>
<line x1="147.60" y1="128.95" x2="150.60" y2="128.95" stroke="#7ee87e" stroke-width="0.6" opacity="1.0"/>
<line x1="144.85" y1="120.45" x2="144.85" y2="132.90" stroke="#7ee87e" stroke-width="0.6" opacity="1.0"/>
<line x1="143.35" y1="120.45" x2="146.35" y2="120.45" stroke="#7ee87e" stroke-width="0.6" opacity="1.0"/>
<line x1="143.35" y1="132.90" x2="146.35" y2="132.90" stroke="#7ee87e" stroke-width="0.6" opacity="1.0"/>
<line x1="140.60" y1="125.33" x2="140.60" y2="136.51" stroke="#7ee87e" stroke-width="0.6" opacity="1.0"/>
<line x1="139.10" y1="125.33" x2="142.10" y2="125.33" stroke="#7ee87e" stroke-width="0.6" opacity="1.0"/>
<line x1="139.10" y1="136.51" x2="142.10" y2="136.51" stroke="#7ee87e" stroke-width="0.6" opacity="1.0"/>
<line x1="136.35" y1="129.61" x2="136.35" y2="139.51" stroke="#7ee87e" stroke-width="0.6" opacity="1.0"/>
<line x1="134.85" y1="129.61" x2="137.85" y2="129.61" stroke="#7ee87e" stroke-width="0.6" opacity="1.0"/>
<line x1="134.85" y1="139.51" x2="137.85" y2="139.51" stroke="#7ee87e" stroke-width="0.6" opacity="1.0"/>
<line x1="132.10" y1="133.26" x2="132.10" y2="141.89" stroke="#7ee87e" stroke-width="0.6" opacity="1.0"/>
<line x1="130.60" y1="133.26" x2="133.60" y2="133.26" stroke="#7ee87e" stroke-width="0.6" opacity="1.0"/>
<line x1="130.60" y1="141.89" x2="133.60" y2="141.89" stroke="#7ee87e" stroke-width="0.6" opacity="1.0"/>
<line x1="127.85" y1="137.59" x2="127.85" y2="144.95" stroke="#7ee87e" stroke-width="0.6" opacity="1.0"/>
<line x1="126.35" y1="137.59" x2="129.35" y2="137.59" stroke="#7ee87e" stroke-width="0.6" opacity="1.0"/>
<line x1="126.35" y1="144.95" x2="129.35" y2="144.95" stroke="#7ee87e" stroke-width="0.6" opacity="1.0"/>
<line x1="123.60" y1="141.12" x2="123.60" y2="147.20" stroke="#7ee87e" stroke-width="0.6" opacity="1.0"/>
<line x1="122.10" y1="141.12" x2="125.10" y2="141.12" stroke="#7ee87e" stroke-width="0.6" opacity="1.0"/>
<line x1="122.10" y1="147.20" x2="125.10" y2="147.20" stroke="#7ee87e" stroke-width="0.6" opacity="1.0"/>
<line x1="119.35" y1="143.55" x2="119.35" y2="148.36" stroke="#7ee87e" stroke-width="0.6" opacity="1.0"/>
<line x1="117.85" y1="143.55" x2="120.85" y2="143.55" stroke="#7ee87e" stroke-width="0.6" opacity="1.0"/>
<line x1="117.85" y1="148.36" x2="120.85" y2="148.36" stroke="#7ee87e" stroke-width="0.6" opacity="1.0"/>
<line x1="115.10" y1="145.84" x2="115.10" y2="149.37" stroke="#7ee87e" stroke-width="0.6" opacity="1.0"/>
<line x1="113.60" y1="145.84" x2="116.60" y2="145.84" stroke="#7ee87e" stroke-width="0.6" opacity="1.0"/>
<line x1="113.60" y1="149.37" x2="116.60" y2="149.37" stroke="#7ee87e" stroke-width="0.6" opacity="1.0"/>
<line x1="110.85" y1="148.00" x2="110.85" y2="150.25" stroke="#7ee87e" stroke-width="0.6" opacity="1.0"/>
<line x1="109.35" y1="148.00" x2="112.35" y2="148.00" stroke="#7ee87e" stroke-width="0.6" opacity="1.0"/>
<line x1="109.35" y1="150.25" x2="112.35" y2="150.25" stroke="#7ee87e" stroke-width="0.6" opacity="1.0"/>
<line x1="106.60" y1="149.66" x2="106.60" y2="151.48" stroke="#7ee87e" stroke-width="0.6" opacity="1.0"/>
<line x1="105.10" y1="149.66" x2="108.10" y2="149.66" stroke="#7ee87e" stroke-width="0.6" opacity="1.0"/>
<line x1="105.10" y1="151.48" x2="108.10" y2="151.48" stroke="#7ee87e" stroke-width="0.6" opacity="1.0"/>
<line x1="102.35" y1="151.15" x2="102.35" y2="152.75" stroke="#7ee87e" stroke-width="0.6" opacity="1.0"/>
<line x1="100.85" y1="151.15" x2="103.85" y2="151.15" stroke="#7ee87e" stroke-width="0.6" opacity="1.0"/>
<line x1="100.85" y1="152.75" x2="103.85" y2="152.75" stroke="#7ee87e" stroke-width="0.6" opacity="1.0"/>
<line x1="98.10" y1="152.73" x2="98.10" y2="154.10" stroke="#7ee87e" stroke-width="0.6" opacity="1.0"/>
<line x1="96.60" y1="152.73" x2="99.60" y2="152.73" stroke="#7ee87e" stroke-width="0.6" opacity="1.0"/>
<line x1="96.60" y1="154.10" x2="99.60" y2="154.10" stroke="#7ee87e" stroke-width="0.6" opacity="1.0"/>
<path d="M72.50,162.10 L72.67,161.73 L72.91,161.20 L73.19,160.59 L73.49,159.94 L73.80,159.32 L74.10,158.80 L74.36,158.35 L74.59,157.93 L74.83,157.53 L75.11,157.17 L75.45,156.86 L75.90,156.60 L76.47,156.39 L77.16,156.24 L77.91,156.12 L78.69,156.05 L79.47,156.01 L80.20,156.00 L80.89,156.04 L81.58,156.14 L82.26,156.28 L82.94,156.42 L83.62,156.54 L84.30,156.60 L84.97,156.61 L85.63,156.60 L86.29,156.57 L86.96,156.51 L87.66,156.42 L88.40,156.30 L89.17,156.16 L89.95,155.99 L90.76,155.79 L91.61,155.56 L92.52,155.30 L93.50,155.00 L94.59,154.65 L95.79,154.24 L97.04,153.79 L98.30,153.34 L99.54,152.90 L100.70,152.50 L101.78,152.14 L102.81,151.80 L103.82,151.47 L104.81,151.16 L105.80,150.83 L106.80,150.50 L107.82,150.16 L108.83,149.81 L109.85,149.47 L110.87,149.12 L111.88,148.76 L112.90,148.40 L113.93,148.04 L114.97,147.68 L116.01,147.31 L117.03,146.93 L118.04,146.53 L119.00,146.10 L119.92,145.65 L120.81,145.20 L121.67,144.73 L122.52,144.22 L123.36,143.65 L124.20,143.00 L125.03,142.26 L125.83,141.43 L126.63,140.55 L127.43,139.63 L128.25,138.71 L129.10,137.80 L129.98,136.92 L130.89,136.05 L131.82,135.18 L132.75,134.27 L133.68,133.32 L134.60,132.30 L135.50,131.19 L136.40,130.00 L137.30,128.76 L138.20,127.50 L139.10,126.27 L140.00,125.10 L140.92,124.00 L141.86,122.94 L142.81,121.91 L143.74,120.87 L144.64,119.81 L145.50,118.70 L146.31,117.56 L147.07,116.40 L147.81,115.22 L148.53,114.00 L149.26,112.73 L150.00,111.40 L150.77,109.96 L151.56,108.40 L152.35,106.79 L153.13,105.20 L153.88,103.68 L154.60,102.30 L155.27,101.11 L155.89,100.08 L156.49,99.12 L157.08,98.16 L157.68,97.11 L158.30,95.90 L158.96,94.48 L159.63,92.91 L160.31,91.26 L160.99,89.58 L161.66,87.94 L162.30,86.40 L162.88,85.01 L163.41,83.73 L163.93,82.49 L164.47,81.21 L165.08,79.84 L165.80,78.30 L166.65,76.53 L167.59,74.57 L168.61,72.51 L169.65,70.43 L170.69,68.44 L171.70,66.60 L172.67,64.93 L173.64,63.35 L174.61,61.85 L175.57,60.40 L176.53,58.99 L177.50,57.60 L178.47,56.22 L179.43,54.87 L180.40,53.56 L181.37,52.29 L182.33,51.06 L183.30,49.90 L184.27,48.80 L185.23,47.77 L186.19,46.79 L187.16,45.84 L188.13,44.92 L189.10,44.00 L190.09,43.06 L191.09,42.10 L192.09,41.16 L193.09,40.29 L194.06,39.52 L195.00,38.90 L195.91,38.42 L196.81,38.04 L197.69,37.77 L198.54,37.60 L199.35,37.55 L200.10,37.60 L200.74,37.76 L201.27,38.02 L201.76,38.39 L202.28,38.88 L202.90,39.48 L203.70,40.20 L204.70,41.12 L205.86,42.25 L207.12,43.49 L208.43,44.76 L209.74,45.96 L211.00,47.00 L212.22,47.88 L213.43,48.67 L214.65,49.39 L215.87,50.06 L217.08,50.69 L218.30,51.30 L219.52,51.87 L220.73,52.38 L221.95,52.85 L223.17,53.30 L224.38,53.74 L225.60,54.20 L226.82,54.67 L228.04,55.14 L229.26,55.61 L230.48,56.07 L231.69,56.50 L232.90,56.90 L234.07,57.29 L235.19,57.67 L236.31,58.03 L237.46,58.35 L238.67,58.61 L240.00,58.80 L241.48,58.89 L243.10,58.90 L244.79,58.84 L246.48,58.76 L248.10,58.67 L249.60,58.60 L250.95,58.55 L252.21,58.49 L253.40,58.43 L254.56,58.36 L255.72,58.28 L256.90,58.20 L258.16,58.10 L259.47,57.97 L260.78,57.84 L262.02,57.72 L263.15,57.63 L264.10,57.60 L264.80,57.66 L265.27,57.80 L265.63,57.98 L265.97,58.13 L266.39,58.23 L267.00,58.20 L267.81,58.03 L268.75,57.76 L269.77,57.43 L270.83,57.06 L271.89,56.70 L272.90,56.40 L273.86,56.14 L274.79,55.91 L275.71,55.68 L276.66,55.46 L277.65,55.23 L278.70,55.00 L279.83,54.75 L281.02,54.50 L282.26,54.25 L283.51,54.00 L284.77,53.75 L286.00,53.50 L287.22,53.25 L288.43,53.00 L289.65,52.76 L290.87,52.52 L292.08,52.30 L293.30,52.10 L294.53,51.93 L295.79,51.80 L297.04,51.67 L298.28,51.56 L299.47,51.44 L300.60,51.30 L301.67,51.14 L302.70,50.97 L303.68,50.79 L304.63,50.62 L305.53,50.45 L306.40,50.30 L307.27,50.16 L308.13,50.02 L308.96,49.89 L309.71,49.77 L310.34,49.67 L310.80,49.60" fill="none" stroke="#c81e1e" stroke-width="2.1" stroke-linejoin="round" stroke-linecap="round" />
<path d="M72.50,162.10 L72.67,161.73 L72.91,161.20 L73.19,160.59 L73.49,159.94 L73.80,159.32 L74.10,158.80 L74.36,158.35 L74.59,157.93 L74.83,157.53 L75.11,157.17 L75.45,156.86 L75.90,156.60 L76.47,156.39 L77.16,156.24 L77.91,156.12 L78.69,156.05 L79.47,156.01 L80.20,156.00 L80.89,156.04 L81.58,156.14 L82.26,156.28 L82.94,156.42 L83.62,156.54 L84.30,156.60 L84.97,156.61 L85.63,156.60 L86.29,156.57 L86.96,156.51 L87.66,156.42 L88.40,156.30 L89.17,156.16 L89.95,155.99 L90.76,155.79 L91.61,155.56 L92.52,155.30 L93.50,155.00 L94.59,154.65 L95.79,154.24 L97.04,153.79 L98.30,153.34 L99.54,152.90 L100.70,152.50 L101.78,152.14 L102.81,151.80 L103.82,151.47 L104.81,151.16 L105.80,150.83 L106.80,150.50 L107.82,150.16 L108.83,149.81 L109.85,149.47 L110.87,149.12 L111.88,148.76 L112.90,148.40 L113.91,148.04 L114.92,147.67 L115.93,147.31 L116.94,146.93 L117.96,146.53 L119.00,146.10 L120.06,145.67 L121.14,145.24 L122.24,144.79 L123.33,144.30 L124.42,143.74 L125.50,143.10 L126.56,142.34 L127.61,141.48 L128.66,140.56 L129.70,139.61 L130.75,138.68 L131.80,137.80 L132.85,137.01 L133.89,136.28 L134.94,135.56 L136.00,134.82 L137.08,134.02 L138.20,133.10 L139.36,132.07 L140.57,130.95 L141.79,129.77 L143.03,128.54 L144.27,127.27 L145.50,126.00 L146.72,124.71 L147.93,123.38 L149.15,122.02 L150.37,120.64 L151.58,119.23 L152.80,117.80 L154.02,116.33 L155.23,114.81 L156.45,113.26 L157.67,111.71 L158.88,110.19 L160.10,108.70 L161.32,107.27 L162.54,105.87 L163.76,104.49 L164.97,103.11 L166.19,101.72 L167.40,100.30 L168.60,98.83 L169.80,97.31 L171.00,95.78 L172.20,94.27 L173.40,92.80 L174.60,91.40 L175.81,90.07 L177.03,88.79 L178.25,87.56 L179.47,86.36 L180.69,85.21 L181.90,84.10 L183.10,83.01 L184.30,81.95 L185.50,80.92 L186.70,79.96 L187.90,79.08 L189.10,78.30 L190.34,77.61 L191.63,77.01 L192.92,76.48 L194.18,76.04 L195.35,75.68 L196.40,75.40 L197.28,75.23 L198.03,75.16 L198.69,75.17 L199.34,75.24 L200.02,75.36 L200.80,75.50 L201.62,75.70 L202.41,75.99 L203.24,76.32 L204.18,76.65 L205.28,76.93 L206.60,77.10 L208.26,77.16 L210.23,77.14 L212.36,77.06 L214.51,76.96 L216.54,76.87 L218.30,76.80 L219.75,76.77 L220.98,76.74 L222.09,76.72 L223.17,76.70 L224.31,76.66 L225.60,76.60 L227.07,76.51 L228.66,76.40 L230.30,76.28 L231.94,76.15 L233.53,76.02 L235.00,75.90 L236.34,75.79 L237.59,75.69 L238.78,75.59 L239.94,75.48 L241.11,75.35 L242.30,75.20 L243.52,75.02 L244.73,74.80 L245.95,74.58 L247.17,74.34 L248.38,74.11 L249.60,73.90 L250.82,73.70 L252.04,73.50 L253.26,73.31 L254.47,73.12 L255.69,72.95 L256.90,72.80 L258.16,72.66 L259.47,72.53 L260.78,72.41 L262.02,72.31 L263.15,72.24 L264.10,72.20 L264.80,72.22 L265.27,72.30 L265.63,72.41 L265.97,72.50 L266.39,72.54 L267.00,72.50 L267.81,72.35 L268.75,72.13 L269.77,71.86 L270.83,71.57 L271.89,71.27 L272.90,71.00 L273.86,70.75 L274.79,70.51 L275.71,70.27 L276.66,70.03 L277.65,69.77 L278.70,69.50 L279.83,69.20 L281.02,68.89 L282.26,68.56 L283.51,68.23 L284.77,67.91 L286.00,67.60 L287.22,67.29 L288.43,66.98 L289.65,66.67 L290.87,66.39 L292.08,66.12 L293.30,65.90 L294.53,65.73 L295.79,65.62 L297.04,65.54 L298.28,65.46 L299.47,65.35 L300.60,65.20 L301.67,64.99 L302.70,64.73 L303.68,64.45 L304.63,64.17 L305.53,63.91 L306.40,63.70 L307.27,63.53 L308.13,63.38 L308.96,63.26 L309.71,63.15 L310.34,63.07 L310.80,63.00" fill="none" stroke="#28dc28" stroke-width="2.1" stroke-linejoin="round" stroke-linecap="round" />
<line x1="78.60" y1="20.25" x2="101.50" y2="20.25" stroke="#c01c1c" stroke-width="2.1" />
<line x1="78.60" y1="32.80" x2="101.50" y2="32.80" stroke="#28dc28" stroke-width="2.1" />
<text x="104.00" y="23.60" font-size="10.0" text-anchor="start" font-weight="normal" fill="#1c1c1c" >miR-762 mimic</text>
<text x="104.00" y="36.10" font-size="10.0" text-anchor="start" font-weight="normal" fill="#1c1c1c" >NC</text>
<text x="402.50" y="174.60" font-size="8.3" text-anchor="middle" font-weight="normal" fill="#1c1c1c" >0</text>
<text x="422.20" y="174.60" font-size="8.3" text-anchor="middle" font-weight="normal" fill="#1c1c1c" >10</text>
<text x="441.90" y="174.60" font-size="8.3" text-anchor="middle" font-weight="normal" fill="#1c1c1c" >20</text>
<text x="461.60" y="174.60" font-size="8.3" text-anchor="middle" font-weight="normal" fill="#1c1c1c" >30</text>
<text x="481.30" y="174.60" font-size="8.3" text-anchor="middle" font-weight="normal" fill="#1c1c1c" >40</text>
<text x="501.00" y="174.60" font-size="8.3" text-anchor="middle" font-weight="normal" fill="#1c1c1c" >50</text>
<text x="520.70" y="174.60" font-size="8.3" text-anchor="middle" font-weight="normal" fill="#1c1c1c" >60</text>
<text x="540.40" y="174.60" font-size="8.3" text-anchor="middle" font-weight="normal" fill="#1c1c1c" >70</text>
<text x="560.10" y="174.60" font-size="8.3" text-anchor="middle" font-weight="normal" fill="#1c1c1c" >80</text>
<text x="579.80" y="174.60" font-size="8.3" text-anchor="middle" font-weight="normal" fill="#1c1c1c" >90</text>
<text x="599.50" y="174.60" font-size="8.3" text-anchor="middle" font-weight="normal" fill="#1c1c1c" >100</text>
<text x="619.20" y="174.60" font-size="8.3" text-anchor="middle" font-weight="normal" fill="#1c1c1c" >110</text>
<text x="638.90" y="174.60" font-size="8.3" text-anchor="middle" font-weight="normal" fill="#1c1c1c" >120</text>
<text x="521.70" y="187.60" font-size="10.8" text-anchor="middle" font-weight="normal" fill="#1c1c1c" >Time (hour)</text>
<text x="382.00" y="86.70" font-size="12.2" text-anchor="middle" font-weight="normal" fill="#1c1c1c" transform="rotate(-90 382.00 86.70)" >Cell Index</text>
<line x1="639.70" y1="58.62" x2="639.70" y2="88.58" stroke="#6a6ad8" stroke-width="0.6" opacity="1.0"/>
<line x1="638.20" y1="58.62" x2="641.20" y2="58.62" stroke="#6a6ad8" stroke-width="0.6" opacity="1.0"/>
<line x1="638.20" y1="88.58" x2="641.20" y2="88.58" stroke="#6a6ad8" stroke-width="0.6" opacity="1.0"/>
<line x1="635.78" y1="59.81" x2="635.78" y2="89.24" stroke="#6a6ad8" stroke-width="0.6" opacity="1.0"/>
<line x1="634.28" y1="59.81" x2="637.28" y2="59.81" stroke="#6a6ad8" stroke-width="0.6" opacity="1.0"/>
<line x1="634.28" y1="89.24" x2="637.28" y2="89.24" stroke="#6a6ad8" stroke-width="0.6" opacity="1.0"/>
<line x1="631.86" y1="61.45" x2="631.86" y2="90.35" stroke="#6a6ad8" stroke-width="0.6" opacity="1.0"/>
<line x1="630.36" y1="61.45" x2="633.36" y2="61.45" stroke="#6a6ad8" stroke-width="0.6" opacity="1.0"/>
<line x1="630.36" y1="90.35" x2="633.36" y2="90.35" stroke="#6a6ad8" stroke-width="0.6" opacity="1.0"/>
<line x1="627.94" y1="63.20" x2="627.94" y2="91.57" stroke="#6a6ad8" stroke-width="0.6" opacity="1.0"/>
<line x1="626.44" y1="63.20" x2="629.44" y2="63.20" stroke="#6a6ad8" stroke-width="0.6" opacity="1.0"/>
<line x1="626.44" y1="91.57" x2="629.44" y2="91.57" stroke="#6a6ad8" stroke-width="0.6" opacity="1.0"/>
<line x1="624.02" y1="64.85" x2="624.02" y2="92.69" stroke="#6a6ad8" stroke-width="0.6" opacity="1.0"/>
<line x1="622.52" y1="64.85" x2="625.52" y2="64.85" stroke="#6a6ad8" stroke-width="0.6" opacity="1.0"/>
<line x1="622.52" y1="92.69" x2="625.52" y2="92.69" stroke="#6a6ad8" stroke-width="0.6" opacity="1.0"/>
<line x1="620.10" y1="66.68" x2="620.10" y2="93.98" stroke="#6a6ad8" stroke-width="0.6" opacity="1.0"/>
<line x1="618.60" y1="66.68" x2="621.60" y2="66.68" stroke="#6a6ad8" stroke-width="0.6" opacity="1.0"/>
<line x1="618.60" y1="93.98" x2="621.60" y2="93.98" stroke="#6a6ad8" stroke-width="0.6" opacity="1.0"/>
<line x1="616.18" y1="68.91" x2="616.18" y2="95.69" stroke="#6a6ad8" stroke-width="0.6" opacity="1.0"/>
<line x1="614.68" y1="68.91" x2="617.68" y2="68.91" stroke="#6a6ad8" stroke-width="0.6" opacity="1.0"/>
<line x1="614.68" y1="95.69" x2="617.68" y2="95.69" stroke="#6a6ad8" stroke-width="0.6" opacity="1.0"/>
<line x1="612.26" y1="71.19" x2="612.26" y2="97.44" stroke="#6a6ad8" stroke-width="0.6" opacity="1.0"/>
<line x1="610.76" y1="71.19" x2="613.76" y2="71.19" stroke="#6a6ad8" stroke-width="0.6" opacity="1.0"/>
<line x1="610.76" y1="97.44" x2="613.76" y2="97.44" stroke="#6a6ad8" stroke-width="0.6" opacity="1.0"/>
<line x1="608.34" y1="73.39" x2="608.34" y2="99.11" stroke="#6a6ad8" stroke-width="0.6" opacity="1.0"/>
<line x1="606.84" y1="73.39" x2="609.84" y2="73.39" stroke="#6a6ad8" stroke-width="0.6" opacity="1.0"/>
<line x1="606.84" y1="99.11" x2="609.84" y2="99.11" stroke="#6a6ad8" stroke-width="0.6" opacity="1.0"/>
<line x1="604.42" y1="75.66" x2="604.42" y2="100.73" stroke="#6a6ad8" stroke-width="0.6" opacity="1.0"/>
<line x1="602.92" y1="75.66" x2="605.92" y2="75.66" stroke="#6a6ad8" stroke-width="0.6" opacity="1.0"/>
<line x1="602.92" y1="100.73" x2="605.92" y2="100.73" stroke="#6a6ad8" stroke-width="0.6" opacity="1.0"/>
<line x1="600.50" y1="78.04" x2="600.50" y2="102.29" stroke="#6a6ad8" stroke-width="0.6" opacity="1.0"/>
<line x1="599.00" y1="78.04" x2="602.00" y2="78.04" stroke="#6a6ad8" stroke-width="0.6" opacity="1.0"/>
<line x1="599.00" y1="102.29" x2="602.00" y2="102.29" stroke="#6a6ad8" stroke-width="0.6" opacity="1.0"/>
<line x1="596.58" y1="80.18" x2="596.58" y2="103.62" stroke="#6a6ad8" stroke-width="0.6" opacity="1.0"/>
<line x1="595.08" y1="80.18" x2="598.08" y2="80.18" stroke="#6a6ad8" stroke-width="0.6" opacity="1.0"/>
<line x1="595.08" y1="103.62" x2="598.08" y2="103.62" stroke="#6a6ad8" stroke-width="0.6" opacity="1.0"/>
<line x1="592.66" y1="82.07" x2="592.66" y2="104.70" stroke="#6a6ad8" stroke-width="0.6" opacity="1.0"/>
<line x1="591.16" y1="82.07" x2="594.16" y2="82.07" stroke="#6a6ad8" stroke-width="0.6" opacity="1.0"/>
<line x1="591.16" y1="104.70" x2="594.16" y2="104.70" stroke="#6a6ad8" stroke-width="0.6" opacity="1.0"/>
<line x1="588.74" y1="83.58" x2="588.74" y2="105.40" stroke="#6a6ad8" stroke-width="0.6" opacity="1.0"/>
<line x1="587.24" y1="83.58" x2="590.24" y2="83.58" stroke="#6a6ad8" stroke-width="0.6" opacity="1.0"/>
<line x1="587.24" y1="105.40" x2="590.24" y2="105.40" stroke="#6a6ad8" stroke-width="0.6" opacity="1.0"/>
<line x1="584.82" y1="84.90" x2="584.82" y2="105.90" stroke="#6a6ad8" stroke-width="0.6" opacity="1.0"/>
<line x1="583.32" y1="84.90" x2="586.32" y2="84.90" stroke="#6a6ad8" stroke-width="0.6" opacity="1.0"/>
<line x1="583.32" y1="105.90" x2="586.32" y2="105.90" stroke="#6a6ad8" stroke-width="0.6" opacity="1.0"/>
<line x1="580.90" y1="86.64" x2="580.90" y2="106.83" stroke="#6a6ad8" stroke-width="0.6" opacity="1.0"/>
<line x1="579.40" y1="86.64" x2="582.40" y2="86.64" stroke="#6a6ad8" stroke-width="0.6" opacity="1.0"/>
<line x1="579.40" y1="106.83" x2="582.40" y2="106.83" stroke="#6a6ad8" stroke-width="0.6" opacity="1.0"/>
<line x1="576.98" y1="88.61" x2="576.98" y2="107.93" stroke="#6a6ad8" stroke-width="0.6" opacity="1.0"/>
<line x1="575.48" y1="88.61" x2="578.48" y2="88.61" stroke="#6a6ad8" stroke-width="0.6" opacity="1.0"/>
<line x1="575.48" y1="107.93" x2="578.48" y2="107.93" stroke="#6a6ad8" stroke-width="0.6" opacity="1.0"/>
<line x1="573.06" y1="90.56" x2="573.06" y2="108.99" stroke="#6a6ad8" stroke-width="0.6" opacity="1.0"/>
<line x1="571.56" y1="90.56" x2="574.56" y2="90.56" stroke="#6a6ad8" stroke-width="0.6" opacity="1.0"/>
<line x1="571.56" y1="108.99" x2="574.56" y2="108.99" stroke="#6a6ad8" stroke-width="0.6" opacity="1.0"/>
<line x1="569.14" y1="92.49" x2="569.14" y2="110.05" stroke="#6a6ad8" stroke-width="0.6" opacity="1.0"/>
<line x1="567.64" y1="92.49" x2="570.64" y2="92.49" stroke="#6a6ad8" stroke-width="0.6" opacity="1.0"/>
<line x1="567.64" y1="110.05" x2="570.64" y2="110.05" stroke="#6a6ad8" stroke-width="0.6" opacity="1.0"/>
<line x1="565.22" y1="94.40" x2="565.22" y2="111.07" stroke="#6a6ad8" stroke-width="0.6" opacity="1.0"/>
<line x1="563.72" y1="94.40" x2="566.72" y2="94.40" stroke="#6a6ad8" stroke-width="0.6" opacity="1.0"/>
<line x1="563.72" y1="111.07" x2="566.72" y2="111.07" stroke="#6a6ad8" stroke-width="0.6" opacity="1.0"/>
<line x1="561.30" y1="96.27" x2="561.30" y2="112.06" stroke="#6a6ad8" stroke-width="0.6" opacity="1.0"/>
<line x1="559.80" y1="96.27" x2="562.80" y2="96.27" stroke="#6a6ad8" stroke-width="0.6" opacity="1.0"/>
<line x1="559.80" y1="112.06" x2="562.80" y2="112.06" stroke="#6a6ad8" stroke-width="0.6" opacity="1.0"/>
<line x1="557.38" y1="98.12" x2="557.38" y2="113.03" stroke="#6a6ad8" stroke-width="0.6" opacity="1.0"/>
<line x1="555.88" y1="98.12" x2="558.88" y2="98.12" stroke="#6a6ad8" stroke-width="0.6" opacity="1.0"/>
<line x1="555.88" y1="113.03" x2="558.88" y2="113.03" stroke="#6a6ad8" stroke-width="0.6" opacity="1.0"/>
<line x1="553.46" y1="99.62" x2="553.46" y2="113.97" stroke="#6a6ad8" stroke-width="0.6" opacity="1.0"/>
<line x1="551.96" y1="99.62" x2="554.96" y2="99.62" stroke="#6a6ad8" stroke-width="0.6" opacity="1.0"/>
<line x1="551.96" y1="113.97" x2="554.96" y2="113.97" stroke="#6a6ad8" stroke-width="0.6" opacity="1.0"/>
<line x1="549.54" y1="100.79" x2="549.54" y2="114.75" stroke="#6a6ad8" stroke-width="0.6" opacity="1.0"/>
<line x1="548.04" y1="100.79" x2="551.04" y2="100.79" stroke="#6a6ad8" stroke-width="0.6" opacity="1.0"/>
<line x1="548.04" y1="114.75" x2="551.04" y2="114.75" stroke="#6a6ad8" stroke-width="0.6" opacity="1.0"/>
<line x1="545.62" y1="102.08" x2="545.62" y2="115.64" stroke="#6a6ad8" stroke-width="0.6" opacity="1.0"/>
<line x1="544.12" y1="102.08" x2="547.12" y2="102.08" stroke="#6a6ad8" stroke-width="0.6" opacity="1.0"/>
<line x1="544.12" y1="115.64" x2="547.12" y2="115.64" stroke="#6a6ad8" stroke-width="0.6" opacity="1.0"/>
<line x1="541.70" y1="103.22" x2="541.70" y2="116.39" stroke="#6a6ad8" stroke-width="0.6" opacity="1.0"/>
<line x1="540.20" y1="103.22" x2="543.20" y2="103.22" stroke="#6a6ad8" stroke-width="0.6" opacity="1.0"/>
<line x1="540.20" y1="116.39" x2="543.20" y2="116.39" stroke="#6a6ad8" stroke-width="0.6" opacity="1.0"/>
<line x1="537.78" y1="103.87" x2="537.78" y2="116.82" stroke="#6a6ad8" stroke-width="0.6" opacity="1.0"/>
<line x1="536.28" y1="103.87" x2="539.28" y2="103.87" stroke="#6a6ad8" stroke-width="0.6" opacity="1.0"/>
<line x1="536.28" y1="116.82" x2="539.28" y2="116.82" stroke="#6a6ad8" stroke-width="0.6" opacity="1.0"/>
<line x1="533.86" y1="104.43" x2="533.86" y2="117.31" stroke="#6a6ad8" stroke-width="0.6" opacity="1.0"/>
<line x1="532.36" y1="104.43" x2="535.36" y2="104.43" stroke="#6a6ad8" stroke-width="0.6" opacity="1.0"/>
<line x1="532.36" y1="117.31" x2="535.36" y2="117.31" stroke="#6a6ad8" stroke-width="0.6" opacity="1.0"/>
<line x1="529.94" y1="105.02" x2="529.94" y2="117.82" stroke="#6a6ad8" stroke-width="0.6" opacity="1.0"/>
<line x1="528.44" y1="105.02" x2="531.44" y2="105.02" stroke="#6a6ad8" stroke-width="0.6" opacity="1.0"/>
<line x1="528.44" y1="117.82" x2="531.44" y2="117.82" stroke="#6a6ad8" stroke-width="0.6" opacity="1.0"/>
<line x1="526.02" y1="105.25" x2="526.02" y2="117.97" stroke="#6a6ad8" stroke-width="0.6" opacity="1.0"/>
<line x1="524.52" y1="105.25" x2="527.52" y2="105.25" stroke="#6a6ad8" stroke-width="0.6" opacity="1.0"/>
<line x1="524.52" y1="117.97" x2="527.52" y2="117.97" stroke="#6a6ad8" stroke-width="0.6" opacity="1.0"/>
<line x1="522.10" y1="105.28" x2="522.10" y2="117.92" stroke="#6a6ad8" stroke-width="0.6" opacity="1.0"/>
<line x1="520.60" y1="105.28" x2="523.60" y2="105.28" stroke="#6a6ad8" stroke-width="0.6" opacity="1.0"/>
<line x1="520.60" y1="117.92" x2="523.60" y2="117.92" stroke="#6a6ad8" stroke-width="0.6" opacity="1.0"/>
<line x1="518.18" y1="105.27" x2="518.18" y2="117.84" stroke="#6a6ad8" stroke-width="0.6" opacity="1.0"/>
<line x1="516.68" y1="105.27" x2="519.68" y2="105.27" stroke="#6a6ad8" stroke-width="0.6" opacity="1.0"/>
<line x1="516.68" y1="117.84" x2="519.68" y2="117.84" stroke="#6a6ad8" stroke-width="0.6" opacity="1.0"/>
<line x1="514.26" y1="105.20" x2="514.26" y2="117.68" stroke="#6a6ad8" stroke-width="0.6" opacity="1.0"/>
<line x1="512.76" y1="105.20" x2="515.76" y2="105.20" stroke="#6a6ad8" stroke-width="0.6" opacity="1.0"/>
<line x1="512.76" y1="117.68" x2="515.76" y2="117.68" stroke="#6a6ad8" stroke-width="0.6" opacity="1.0"/>
<line x1="510.34" y1="105.06" x2="510.34" y2="117.46" stroke="#6a6ad8" stroke-width="0.6" opacity="1.0"/>
<line x1="508.84" y1="105.06" x2="511.84" y2="105.06" stroke="#6a6ad8" stroke-width="0.6" opacity="1.0"/>
<line x1="508.84" y1="117.46" x2="511.84" y2="117.46" stroke="#6a6ad8" stroke-width="0.6" opacity="1.0"/>
<line x1="506.42" y1="104.79" x2="506.42" y2="117.12" stroke="#6a6ad8" stroke-width="0.6" opacity="1.0"/>
<line x1="504.92" y1="104.79" x2="507.92" y2="104.79" stroke="#6a6ad8" stroke-width="0.6" opacity="1.0"/>
<line x1="504.92" y1="117.12" x2="507.92" y2="117.12" stroke="#6a6ad8" stroke-width="0.6" opacity="1.0"/>
<line x1="502.50" y1="104.44" x2="502.50" y2="116.69" stroke="#6a6ad8" stroke-width="0.6" opacity="1.0"/>
<line x1="501.00" y1="104.44" x2="504.00" y2="104.44" stroke="#6a6ad8" stroke-width="0.6" opacity="1.0"/>
<line x1="501.00" y1="116.69" x2="504.00" y2="116.69" stroke="#6a6ad8" stroke-width="0.6" opacity="1.0"/>
<line x1="498.58" y1="104.10" x2="498.58" y2="116.19" stroke="#6a6ad8" stroke-width="0.6" opacity="1.0"/>
<line x1="497.08" y1="104.10" x2="500.08" y2="104.10" stroke="#6a6ad8" stroke-width="0.6" opacity="1.0"/>
<line x1="497.08" y1="116.19" x2="500.08" y2="116.19" stroke="#6a6ad8" stroke-width="0.6" opacity="1.0"/>
<line x1="494.66" y1="103.85" x2="494.66" y2="115.63" stroke="#6a6ad8" stroke-width="0.6" opacity="1.0"/>
<line x1="493.16" y1="103.85" x2="496.16" y2="103.85" stroke="#6a6ad8" stroke-width="0.6" opacity="1.0"/>
<line x1="493.16" y1="115.63" x2="496.16" y2="115.63" stroke="#6a6ad8" stroke-width="0.6" opacity="1.0"/>
<line x1="490.74" y1="103.65" x2="490.74" y2="115.12" stroke="#6a6ad8" stroke-width="0.6" opacity="1.0"/>
<line x1="489.24" y1="103.65" x2="492.24" y2="103.65" stroke="#6a6ad8" stroke-width="0.6" opacity="1.0"/>
<line x1="489.24" y1="115.12" x2="492.24" y2="115.12" stroke="#6a6ad8" stroke-width="0.6" opacity="1.0"/>
<line x1="486.82" y1="103.43" x2="486.82" y2="114.59" stroke="#6a6ad8" stroke-width="0.6" opacity="1.0"/>
<line x1="485.32" y1="103.43" x2="488.32" y2="103.43" stroke="#6a6ad8" stroke-width="0.6" opacity="1.0"/>
<line x1="485.32" y1="114.59" x2="488.32" y2="114.59" stroke="#6a6ad8" stroke-width="0.6" opacity="1.0"/>
<line x1="482.90" y1="103.50" x2="482.90" y2="114.35" stroke="#6a6ad8" stroke-width="0.6" opacity="1.0"/>
<line x1="481.40" y1="103.50" x2="484.40" y2="103.50" stroke="#6a6ad8" stroke-width="0.6" opacity="1.0"/>
<line x1="481.40" y1="114.35" x2="484.40" y2="114.35" stroke="#6a6ad8" stroke-width="0.6" opacity="1.0"/>
<line x1="478.98" y1="104.49" x2="478.98" y2="115.04" stroke="#6a6ad8" stroke-width="0.6" opacity="1.0"/>
<line x1="477.48" y1="104.49" x2="480.48" y2="104.49" stroke="#6a6ad8" stroke-width="0.6" opacity="1.0"/>
<line x1="477.48" y1="115.04" x2="480.48" y2="115.04" stroke="#6a6ad8" stroke-width="0.6" opacity="1.0"/>
<line x1="475.06" y1="105.64" x2="475.06" y2="115.88" stroke="#6a6ad8" stroke-width="0.6" opacity="1.0"/>
<line x1="473.56" y1="105.64" x2="476.56" y2="105.64" stroke="#6a6ad8" stroke-width="0.6" opacity="1.0"/>
<line x1="473.56" y1="115.88" x2="476.56" y2="115.88" stroke="#6a6ad8" stroke-width="0.6" opacity="1.0"/>
<line x1="471.14" y1="106.80" x2="471.14" y2="116.58" stroke="#6a6ad8" stroke-width="0.6" opacity="1.0"/>
<line x1="469.64" y1="106.80" x2="472.64" y2="106.80" stroke="#6a6ad8" stroke-width="0.6" opacity="1.0"/>
<line x1="469.64" y1="116.58" x2="472.64" y2="116.58" stroke="#6a6ad8" stroke-width="0.6" opacity="1.0"/>
<line x1="467.22" y1="108.44" x2="467.22" y2="117.21" stroke="#6a6ad8" stroke-width="0.6" opacity="1.0"/>
<line x1="465.72" y1="108.44" x2="468.72" y2="108.44" stroke="#6a6ad8" stroke-width="0.6" opacity="1.0"/>
<line x1="465.72" y1="117.21" x2="468.72" y2="117.21" stroke="#6a6ad8" stroke-width="0.6" opacity="1.0"/>
<line x1="463.30" y1="110.44" x2="463.30" y2="118.27" stroke="#6a6ad8" stroke-width="0.6" opacity="1.0"/>
<line x1="461.80" y1="110.44" x2="464.80" y2="110.44" stroke="#6a6ad8" stroke-width="0.6" opacity="1.0"/>
<line x1="461.80" y1="118.27" x2="464.80" y2="118.27" stroke="#6a6ad8" stroke-width="0.6" opacity="1.0"/>
<line x1="459.38" y1="113.34" x2="459.38" y2="120.31" stroke="#6a6ad8" stroke-width="0.6" opacity="1.0"/>
<line x1="457.88" y1="113.34" x2="460.88" y2="113.34" stroke="#6a6ad8" stroke-width="0.6" opacity="1.0"/>
<line x1="457.88" y1="120.31" x2="460.88" y2="120.31" stroke="#6a6ad8" stroke-width="0.6" opacity="1.0"/>
<line x1="455.46" y1="116.73" x2="455.46" y2="122.83" stroke="#6a6ad8" stroke-width="0.6" opacity="1.0"/>
<line x1="453.96" y1="116.73" x2="456.96" y2="116.73" stroke="#6a6ad8" stroke-width="0.6" opacity="1.0"/>
<line x1="453.96" y1="122.83" x2="456.96" y2="122.83" stroke="#6a6ad8" stroke-width="0.6" opacity="1.0"/>
<line x1="451.54" y1="119.89" x2="451.54" y2="125.43" stroke="#6a6ad8" stroke-width="0.6" opacity="1.0"/>
<line x1="450.04" y1="119.89" x2="453.04" y2="119.89" stroke="#6a6ad8" stroke-width="0.6" opacity="1.0"/>
<line x1="450.04" y1="125.43" x2="453.04" y2="125.43" stroke="#6a6ad8" stroke-width="0.6" opacity="1.0"/>
<line x1="447.62" y1="122.53" x2="447.62" y2="127.54" stroke="#6a6ad8" stroke-width="0.6" opacity="1.0"/>
<line x1="446.12" y1="122.53" x2="449.12" y2="122.53" stroke="#6a6ad8" stroke-width="0.6" opacity="1.0"/>
<line x1="446.12" y1="127.54" x2="449.12" y2="127.54" stroke="#6a6ad8" stroke-width="0.6" opacity="1.0"/>
<line x1="443.70" y1="124.48" x2="443.70" y2="128.97" stroke="#6a6ad8" stroke-width="0.6" opacity="1.0"/>
<line x1="442.20" y1="124.48" x2="445.20" y2="124.48" stroke="#6a6ad8" stroke-width="0.6" opacity="1.0"/>
<line x1="442.20" y1="128.97" x2="445.20" y2="128.97" stroke="#6a6ad8" stroke-width="0.6" opacity="1.0"/>
<line x1="439.78" y1="128.13" x2="439.78" y2="132.10" stroke="#6a6ad8" stroke-width="0.6" opacity="1.0"/>
<line x1="438.28" y1="128.13" x2="441.28" y2="128.13" stroke="#6a6ad8" stroke-width="0.6" opacity="1.0"/>
<line x1="438.28" y1="132.10" x2="441.28" y2="132.10" stroke="#6a6ad8" stroke-width="0.6" opacity="1.0"/>
<line x1="435.86" y1="131.31" x2="435.86" y2="134.73" stroke="#6a6ad8" stroke-width="0.6" opacity="1.0"/>
<line x1="434.36" y1="131.31" x2="437.36" y2="131.31" stroke="#6a6ad8" stroke-width="0.6" opacity="1.0"/>
<line x1="434.36" y1="134.73" x2="437.36" y2="134.73" stroke="#6a6ad8" stroke-width="0.6" opacity="1.0"/>
<line x1="431.94" y1="133.97" x2="431.94" y2="136.84" stroke="#6a6ad8" stroke-width="0.6" opacity="1.0"/>
<line x1="430.44" y1="133.97" x2="433.44" y2="133.97" stroke="#6a6ad8" stroke-width="0.6" opacity="1.0"/>
<line x1="430.44" y1="136.84" x2="433.44" y2="136.84" stroke="#6a6ad8" stroke-width="0.6" opacity="1.0"/>
<line x1="428.02" y1="136.57" x2="428.02" y2="138.90" stroke="#6a6ad8" stroke-width="0.6" opacity="1.0"/>
<line x1="426.52" y1="136.57" x2="429.52" y2="136.57" stroke="#6a6ad8" stroke-width="0.6" opacity="1.0"/>
<line x1="426.52" y1="138.90" x2="429.52" y2="138.90" stroke="#6a6ad8" stroke-width="0.6" opacity="1.0"/>
<line x1="424.10" y1="138.22" x2="424.10" y2="140.00" stroke="#6a6ad8" stroke-width="0.6" opacity="1.0"/>
<line x1="422.60" y1="138.22" x2="425.60" y2="138.22" stroke="#6a6ad8" stroke-width="0.6" opacity="1.0"/>
<line x1="422.60" y1="140.00" x2="425.60" y2="140.00" stroke="#6a6ad8" stroke-width="0.6" opacity="1.0"/>
<line x1="420.18" y1="139.35" x2="420.18" y2="140.57" stroke="#6a6ad8" stroke-width="0.6" opacity="1.0"/>
<line x1="418.68" y1="139.35" x2="421.68" y2="139.35" stroke="#6a6ad8" stroke-width="0.6" opacity="1.0"/>
<line x1="418.68" y1="140.57" x2="421.68" y2="140.57" stroke="#6a6ad8" stroke-width="0.6" opacity="1.0"/>
<path d="M402.60,162.20 L402.72,161.26 L402.89,159.94 L403.08,158.39 L403.30,156.74 L403.55,155.13 L403.80,153.70 L404.06,152.42 L404.33,151.16 L404.62,149.95 L404.94,148.79 L405.30,147.70 L405.70,146.70 L406.15,145.77 L406.64,144.90 L407.17,144.09 L407.73,143.37 L408.31,142.74 L408.90,142.20 L409.50,141.79 L410.10,141.50 L410.73,141.31 L411.39,141.16 L412.07,141.04 L412.80,140.90 L413.58,140.76 L414.41,140.66 L415.28,140.58 L416.16,140.50 L417.04,140.41 L417.90,140.30 L418.75,140.18 L419.60,140.05 L420.45,139.92 L421.30,139.77 L422.15,139.60 L423.00,139.40 L423.85,139.18 L424.70,138.94 L425.55,138.69 L426.40,138.40 L427.25,138.07 L428.10,137.70 L428.95,137.27 L429.80,136.77 L430.65,136.24 L431.50,135.69 L432.35,135.14 L433.20,134.60 L434.05,134.09 L434.90,133.59 L435.75,133.09 L436.60,132.57 L437.45,132.01 L438.30,131.40 L439.15,130.70 L440.00,129.91 L440.85,129.09 L441.70,128.29 L442.55,127.54 L443.40,126.90 L444.25,126.40 L445.10,126.01 L445.95,125.68 L446.80,125.37 L447.65,125.02 L448.50,124.60 L449.35,124.10 L450.20,123.57 L451.05,123.00 L451.90,122.41 L452.75,121.81 L453.60,121.20 L454.45,120.57 L455.30,119.91 L456.15,119.24 L457.00,118.57 L457.85,117.92 L458.70,117.30 L459.54,116.71 L460.36,116.14 L461.18,115.59 L462.02,115.06 L462.89,114.56 L463.80,114.10 L464.77,113.68 L465.77,113.30 L466.81,112.95 L467.86,112.62 L468.93,112.31 L470.00,112.00 L471.08,111.70 L472.17,111.43 L473.28,111.16 L474.39,110.91 L475.50,110.66 L476.60,110.40 L477.69,110.12 L478.77,109.82 L479.85,109.53 L480.93,109.26 L482.01,109.04 L483.10,108.90 L484.19,108.85 L485.29,108.89 L486.39,108.97 L487.50,109.08 L488.60,109.20 L489.70,109.30 L490.80,109.39 L491.90,109.48 L493.01,109.58 L494.11,109.69 L495.21,109.79 L496.30,109.90 L497.39,110.01 L498.47,110.13 L499.55,110.25 L500.63,110.37 L501.71,110.49 L502.80,110.60 L503.89,110.71 L504.99,110.82 L506.09,110.92 L507.20,111.03 L508.30,111.12 L509.40,111.20 L510.50,111.27 L511.60,111.33 L512.70,111.38 L513.80,111.43 L514.90,111.47 L516.00,111.50 L517.10,111.53 L518.20,111.56 L519.31,111.57 L520.41,111.59 L521.51,111.60 L522.60,111.60 L523.69,111.60 L524.77,111.61 L525.85,111.61 L526.93,111.60 L528.01,111.57 L529.10,111.50 L530.19,111.40 L531.29,111.26 L532.39,111.10 L533.50,110.93 L534.60,110.76 L535.70,110.60 L536.80,110.46 L537.90,110.33 L539.01,110.20 L540.11,110.06 L541.21,109.90 L542.30,109.70 L543.39,109.46 L544.48,109.18 L545.56,108.88 L546.64,108.57 L547.72,108.26 L548.80,107.96 L549.86,107.69 L550.91,107.43 L551.96,107.18 L553.02,106.91 L554.09,106.62 L555.20,106.30 L556.34,105.93 L557.51,105.54 L558.69,105.11 L559.89,104.68 L561.10,104.24 L562.30,103.80 L563.51,103.36 L564.72,102.92 L565.94,102.47 L567.16,102.01 L568.38,101.56 L569.60,101.10 L570.82,100.64 L572.04,100.17 L573.26,99.70 L574.47,99.23 L575.69,98.76 L576.90,98.30 L578.10,97.83 L579.30,97.36 L580.50,96.89 L581.70,96.43 L582.90,96.00 L584.10,95.60 L585.31,95.26 L586.53,94.97 L587.74,94.71 L588.96,94.44 L590.18,94.15 L591.40,93.80 L592.62,93.40 L593.83,92.97 L595.05,92.51 L596.27,92.03 L597.48,91.52 L598.70,91.00 L599.92,90.45 L601.13,89.86 L602.35,89.25 L603.57,88.63 L604.78,88.01 L606.00,87.40 L607.22,86.80 L608.43,86.20 L609.65,85.61 L610.87,85.01 L612.08,84.41 L613.30,83.80 L614.52,83.18 L615.73,82.54 L616.95,81.89 L618.17,81.26 L619.38,80.66 L620.60,80.10 L621.82,79.59 L623.03,79.13 L624.25,78.69 L625.47,78.26 L626.68,77.84 L627.90,77.40 L629.15,76.93 L630.44,76.44 L631.72,75.95 L632.97,75.48 L634.15,75.06 L635.20,74.70 L636.16,74.41 L637.07,74.17 L637.91,73.98 L638.64,73.83 L639.24,73.70 L639.70,73.60" fill="none" stroke="#1414b0" stroke-width="2.1" stroke-linejoin="round" stroke-linecap="round" />
<line x1="639.70" y1="32.90" x2="639.70" y2="44.30" stroke="#f08af0" stroke-width="0.6" opacity="1.0"/>
<line x1="638.20" y1="32.90" x2="641.20" y2="32.90" stroke="#f08af0" stroke-width="0.6" opacity="1.0"/>
<line x1="638.20" y1="44.30" x2="641.20" y2="44.30" stroke="#f08af0" stroke-width="0.6" opacity="1.0"/>
<line x1="635.78" y1="34.04" x2="635.78" y2="45.49" stroke="#f08af0" stroke-width="0.6" opacity="1.0"/>
<line x1="634.28" y1="34.04" x2="637.28" y2="34.04" stroke="#f08af0" stroke-width="0.6" opacity="1.0"/>
<line x1="634.28" y1="45.49" x2="637.28" y2="45.49" stroke="#f08af0" stroke-width="0.6" opacity="1.0"/>
<line x1="631.86" y1="35.95" x2="631.86" y2="47.44" stroke="#f08af0" stroke-width="0.6" opacity="1.0"/>
<line x1="630.36" y1="35.95" x2="633.36" y2="35.95" stroke="#f08af0" stroke-width="0.6" opacity="1.0"/>
<line x1="630.36" y1="47.44" x2="633.36" y2="47.44" stroke="#f08af0" stroke-width="0.6" opacity="1.0"/>
<line x1="627.94" y1="37.91" x2="627.94" y2="49.45" stroke="#f08af0" stroke-width="0.6" opacity="1.0"/>
<line x1="626.44" y1="37.91" x2="629.44" y2="37.91" stroke="#f08af0" stroke-width="0.6" opacity="1.0"/>
<line x1="626.44" y1="49.45" x2="629.44" y2="49.45" stroke="#f08af0" stroke-width="0.6" opacity="1.0"/>
<line x1="624.02" y1="39.33" x2="624.02" y2="50.92" stroke="#f08af0" stroke-width="0.6" opacity="1.0"/>
<line x1="622.52" y1="39.33" x2="625.52" y2="39.33" stroke="#f08af0" stroke-width="0.6" opacity="1.0"/>
<line x1="622.52" y1="50.92" x2="625.52" y2="50.92" stroke="#f08af0" stroke-width="0.6" opacity="1.0"/>
<line x1="620.10" y1="40.81" x2="620.10" y2="52.44" stroke="#f08af0" stroke-width="0.6" opacity="1.0"/>
<line x1="618.60" y1="40.81" x2="621.60" y2="40.81" stroke="#f08af0" stroke-width="0.6" opacity="1.0"/>
<line x1="618.60" y1="52.44" x2="621.60" y2="52.44" stroke="#f08af0" stroke-width="0.6" opacity="1.0"/>
<line x1="616.18" y1="42.70" x2="616.18" y2="54.38" stroke="#f08af0" stroke-width="0.6" opacity="1.0"/>
<line x1="614.68" y1="42.70" x2="617.68" y2="42.70" stroke="#f08af0" stroke-width="0.6" opacity="1.0"/>
<line x1="614.68" y1="54.38" x2="617.68" y2="54.38" stroke="#f08af0" stroke-width="0.6" opacity="1.0"/>
<line x1="612.26" y1="44.84" x2="612.26" y2="56.56" stroke="#f08af0" stroke-width="0.6" opacity="1.0"/>
<line x1="610.76" y1="44.84" x2="613.76" y2="44.84" stroke="#f08af0" stroke-width="0.6" opacity="1.0"/>
<line x1="610.76" y1="56.56" x2="613.76" y2="56.56" stroke="#f08af0" stroke-width="0.6" opacity="1.0"/>
<line x1="608.34" y1="47.24" x2="608.34" y2="59.01" stroke="#f08af0" stroke-width="0.6" opacity="1.0"/>
<line x1="606.84" y1="47.24" x2="609.84" y2="47.24" stroke="#f08af0" stroke-width="0.6" opacity="1.0"/>
<line x1="606.84" y1="59.01" x2="609.84" y2="59.01" stroke="#f08af0" stroke-width="0.6" opacity="1.0"/>
<line x1="604.42" y1="49.67" x2="604.42" y2="61.54" stroke="#f08af0" stroke-width="0.6" opacity="1.0"/>
<line x1="602.92" y1="49.67" x2="605.92" y2="49.67" stroke="#f08af0" stroke-width="0.6" opacity="1.0"/>
<line x1="602.92" y1="61.54" x2="605.92" y2="61.54" stroke="#f08af0" stroke-width="0.6" opacity="1.0"/>
<line x1="600.50" y1="52.10" x2="600.50" y2="64.16" stroke="#f08af0" stroke-width="0.6" opacity="1.0"/>
<line x1="599.00" y1="52.10" x2="602.00" y2="52.10" stroke="#f08af0" stroke-width="0.6" opacity="1.0"/>
<line x1="599.00" y1="64.16" x2="602.00" y2="64.16" stroke="#f08af0" stroke-width="0.6" opacity="1.0"/>
<line x1="596.58" y1="54.19" x2="596.58" y2="66.43" stroke="#f08af0" stroke-width="0.6" opacity="1.0"/>
<line x1="595.08" y1="54.19" x2="598.08" y2="54.19" stroke="#f08af0" stroke-width="0.6" opacity="1.0"/>
<line x1="595.08" y1="66.43" x2="598.08" y2="66.43" stroke="#f08af0" stroke-width="0.6" opacity="1.0"/>
<line x1="592.66" y1="55.98" x2="592.66" y2="68.39" stroke="#f08af0" stroke-width="0.6" opacity="1.0"/>
<line x1="591.16" y1="55.98" x2="594.16" y2="55.98" stroke="#f08af0" stroke-width="0.6" opacity="1.0"/>
<line x1="591.16" y1="68.39" x2="594.16" y2="68.39" stroke="#f08af0" stroke-width="0.6" opacity="1.0"/>
<line x1="588.74" y1="57.81" x2="588.74" y2="70.40" stroke="#f08af0" stroke-width="0.6" opacity="1.0"/>
<line x1="587.24" y1="57.81" x2="590.24" y2="57.81" stroke="#f08af0" stroke-width="0.6" opacity="1.0"/>
<line x1="587.24" y1="70.40" x2="590.24" y2="70.40" stroke="#f08af0" stroke-width="0.6" opacity="1.0"/>
<line x1="584.82" y1="59.72" x2="584.82" y2="72.49" stroke="#f08af0" stroke-width="0.6" opacity="1.0"/>
<line x1="583.32" y1="59.72" x2="586.32" y2="59.72" stroke="#f08af0" stroke-width="0.6" opacity="1.0"/>
<line x1="583.32" y1="72.49" x2="586.32" y2="72.49" stroke="#f08af0" stroke-width="0.6" opacity="1.0"/>
<line x1="580.90" y1="61.91" x2="580.90" y2="74.87" stroke="#f08af0" stroke-width="0.6" opacity="1.0"/>
<line x1="579.40" y1="61.91" x2="582.40" y2="61.91" stroke="#f08af0" stroke-width="0.6" opacity="1.0"/>
<line x1="579.40" y1="74.87" x2="582.40" y2="74.87" stroke="#f08af0" stroke-width="0.6" opacity="1.0"/>
<line x1="576.98" y1="64.39" x2="576.98" y2="77.50" stroke="#f08af0" stroke-width="0.6" opacity="1.0"/>
<line x1="575.48" y1="64.39" x2="578.48" y2="64.39" stroke="#f08af0" stroke-width="0.6" opacity="1.0"/>
<line x1="575.48" y1="77.50" x2="578.48" y2="77.50" stroke="#f08af0" stroke-width="0.6" opacity="1.0"/>
<line x1="573.06" y1="67.28" x2="573.06" y2="80.52" stroke="#f08af0" stroke-width="0.6" opacity="1.0"/>
<line x1="571.56" y1="67.28" x2="574.56" y2="67.28" stroke="#f08af0" stroke-width="0.6" opacity="1.0"/>
<line x1="571.56" y1="80.52" x2="574.56" y2="80.52" stroke="#f08af0" stroke-width="0.6" opacity="1.0"/>
<line x1="569.14" y1="70.12" x2="569.14" y2="83.50" stroke="#f08af0" stroke-width="0.6" opacity="1.0"/>
<line x1="567.64" y1="70.12" x2="570.64" y2="70.12" stroke="#f08af0" stroke-width="0.6" opacity="1.0"/>
<line x1="567.64" y1="83.50" x2="570.64" y2="83.50" stroke="#f08af0" stroke-width="0.6" opacity="1.0"/>
<line x1="565.22" y1="72.61" x2="565.22" y2="86.12" stroke="#f08af0" stroke-width="0.6" opacity="1.0"/>
<line x1="563.72" y1="72.61" x2="566.72" y2="72.61" stroke="#f08af0" stroke-width="0.6" opacity="1.0"/>
<line x1="563.72" y1="86.12" x2="566.72" y2="86.12" stroke="#f08af0" stroke-width="0.6" opacity="1.0"/>
<line x1="561.30" y1="74.63" x2="561.30" y2="88.28" stroke="#f08af0" stroke-width="0.6" opacity="1.0"/>
<line x1="559.80" y1="74.63" x2="562.80" y2="74.63" stroke="#f08af0" stroke-width="0.6" opacity="1.0"/>
<line x1="559.80" y1="88.28" x2="562.80" y2="88.28" stroke="#f08af0" stroke-width="0.6" opacity="1.0"/>
<line x1="557.38" y1="75.98" x2="557.38" y2="89.77" stroke="#f08af0" stroke-width="0.6" opacity="1.0"/>
<line x1="555.88" y1="75.98" x2="558.88" y2="75.98" stroke="#f08af0" stroke-width="0.6" opacity="1.0"/>
<line x1="555.88" y1="89.77" x2="558.88" y2="89.77" stroke="#f08af0" stroke-width="0.6" opacity="1.0"/>
<line x1="553.46" y1="77.53" x2="553.46" y2="91.46" stroke="#f08af0" stroke-width="0.6" opacity="1.0"/>
<line x1="551.96" y1="77.53" x2="554.96" y2="77.53" stroke="#f08af0" stroke-width="0.6" opacity="1.0"/>
<line x1="551.96" y1="91.46" x2="554.96" y2="91.46" stroke="#f08af0" stroke-width="0.6" opacity="1.0"/>
<line x1="549.54" y1="79.47" x2="549.54" y2="93.54" stroke="#f08af0" stroke-width="0.6" opacity="1.0"/>
<line x1="548.04" y1="79.47" x2="551.04" y2="79.47" stroke="#f08af0" stroke-width="0.6" opacity="1.0"/>
<line x1="548.04" y1="93.54" x2="551.04" y2="93.54" stroke="#f08af0" stroke-width="0.6" opacity="1.0"/>
<line x1="545.62" y1="81.74" x2="545.62" y2="95.95" stroke="#f08af0" stroke-width="0.6" opacity="1.0"/>
<line x1="544.12" y1="81.74" x2="547.12" y2="81.74" stroke="#f08af0" stroke-width="0.6" opacity="1.0"/>
<line x1="544.12" y1="95.95" x2="547.12" y2="95.95" stroke="#f08af0" stroke-width="0.6" opacity="1.0"/>
<line x1="541.70" y1="83.83" x2="541.70" y2="98.17" stroke="#f08af0" stroke-width="0.6" opacity="1.0"/>
<line x1="540.20" y1="83.83" x2="543.20" y2="83.83" stroke="#f08af0" stroke-width="0.6" opacity="1.0"/>
<line x1="540.20" y1="98.17" x2="543.20" y2="98.17" stroke="#f08af0" stroke-width="0.6" opacity="1.0"/>
<line x1="537.78" y1="85.07" x2="537.78" y2="99.45" stroke="#f08af0" stroke-width="0.6" opacity="1.0"/>
<line x1="536.28" y1="85.07" x2="539.28" y2="85.07" stroke="#f08af0" stroke-width="0.6" opacity="1.0"/>
<line x1="536.28" y1="99.45" x2="539.28" y2="99.45" stroke="#f08af0" stroke-width="0.6" opacity="1.0"/>
<line x1="533.86" y1="85.96" x2="533.86" y2="100.29" stroke="#f08af0" stroke-width="0.6" opacity="1.0"/>
<line x1="532.36" y1="85.96" x2="535.36" y2="85.96" stroke="#f08af0" stroke-width="0.6" opacity="1.0"/>
<line x1="532.36" y1="100.29" x2="535.36" y2="100.29" stroke="#f08af0" stroke-width="0.6" opacity="1.0"/>
<line x1="529.94" y1="86.88" x2="529.94" y2="101.16" stroke="#f08af0" stroke-width="0.6" opacity="1.0"/>
<line x1="528.44" y1="86.88" x2="531.44" y2="86.88" stroke="#f08af0" stroke-width="0.6" opacity="1.0"/>
<line x1="528.44" y1="101.16" x2="531.44" y2="101.16" stroke="#f08af0" stroke-width="0.6" opacity="1.0"/>
<line x1="526.02" y1="87.96" x2="526.02" y2="102.20" stroke="#f08af0" stroke-width="0.6" opacity="1.0"/>
<line x1="524.52" y1="87.96" x2="527.52" y2="87.96" stroke="#f08af0" stroke-width="0.6" opacity="1.0"/>
<line x1="524.52" y1="102.20" x2="527.52" y2="102.20" stroke="#f08af0" stroke-width="0.6" opacity="1.0"/>
<line x1="522.10" y1="89.17" x2="522.10" y2="103.36" stroke="#f08af0" stroke-width="0.6" opacity="1.0"/>
<line x1="520.60" y1="89.17" x2="523.60" y2="89.17" stroke="#f08af0" stroke-width="0.6" opacity="1.0"/>
<line x1="520.60" y1="103.36" x2="523.60" y2="103.36" stroke="#f08af0" stroke-width="0.6" opacity="1.0"/>
<line x1="518.18" y1="90.61" x2="518.18" y2="104.75" stroke="#f08af0" stroke-width="0.6" opacity="1.0"/>
<line x1="516.68" y1="90.61" x2="519.68" y2="90.61" stroke="#f08af0" stroke-width="0.6" opacity="1.0"/>
<line x1="516.68" y1="104.75" x2="519.68" y2="104.75" stroke="#f08af0" stroke-width="0.6" opacity="1.0"/>
<line x1="514.26" y1="91.85" x2="514.26" y2="105.95" stroke="#f08af0" stroke-width="0.6" opacity="1.0"/>
<line x1="512.76" y1="91.85" x2="515.76" y2="91.85" stroke="#f08af0" stroke-width="0.6" opacity="1.0"/>
<line x1="512.76" y1="105.95" x2="515.76" y2="105.95" stroke="#f08af0" stroke-width="0.6" opacity="1.0"/>
<line x1="510.34" y1="92.61" x2="510.34" y2="106.67" stroke="#f08af0" stroke-width="0.6" opacity="1.0"/>
<line x1="508.84" y1="92.61" x2="511.84" y2="92.61" stroke="#f08af0" stroke-width="0.6" opacity="1.0"/>
<line x1="508.84" y1="106.67" x2="511.84" y2="106.67" stroke="#f08af0" stroke-width="0.6" opacity="1.0"/>
<line x1="506.42" y1="93.14" x2="506.42" y2="107.14" stroke="#f08af0" stroke-width="0.6" opacity="1.0"/>
<line x1="504.92" y1="93.14" x2="507.92" y2="93.14" stroke="#f08af0" stroke-width="0.6" opacity="1.0"/>
<line x1="504.92" y1="107.14" x2="507.92" y2="107.14" stroke="#f08af0" stroke-width="0.6" opacity="1.0"/>
<line x1="502.50" y1="93.64" x2="502.50" y2="107.20" stroke="#f08af0" stroke-width="0.6" opacity="1.0"/>
<line x1="501.00" y1="93.64" x2="504.00" y2="93.64" stroke="#f08af0" stroke-width="0.6" opacity="1.0"/>
<line x1="501.00" y1="107.20" x2="504.00" y2="107.20" stroke="#f08af0" stroke-width="0.6" opacity="1.0"/>
<line x1="498.58" y1="94.21" x2="498.58" y2="107.28" stroke="#f08af0" stroke-width="0.6" opacity="1.0"/>
<line x1="497.08" y1="94.21" x2="500.08" y2="94.21" stroke="#f08af0" stroke-width="0.6" opacity="1.0"/>
<line x1="497.08" y1="107.28" x2="500.08" y2="107.28" stroke="#f08af0" stroke-width="0.6" opacity="1.0"/>
<line x1="494.66" y1="95.03" x2="494.66" y2="107.61" stroke="#f08af0" stroke-width="0.6" opacity="1.0"/>
<line x1="493.16" y1="95.03" x2="496.16" y2="95.03" stroke="#f08af0" stroke-width="0.6" opacity="1.0"/>
<line x1="493.16" y1="107.61" x2="496.16" y2="107.61" stroke="#f08af0" stroke-width="0.6" opacity="1.0"/>
<line x1="490.74" y1="96.01" x2="490.74" y2="108.10" stroke="#f08af0" stroke-width="0.6" opacity="1.0"/>
<line x1="489.24" y1="96.01" x2="492.24" y2="96.01" stroke="#f08af0" stroke-width="0.6" opacity="1.0"/>
<line x1="489.24" y1="108.10" x2="492.24" y2="108.10" stroke="#f08af0" stroke-width="0.6" opacity="1.0"/>
<line x1="486.82" y1="97.48" x2="486.82" y2="108.63" stroke="#f08af0" stroke-width="0.6" opacity="1.0"/>
<line x1="485.32" y1="97.48" x2="488.32" y2="97.48" stroke="#f08af0" stroke-width="0.6" opacity="1.0"/>
<line x1="485.32" y1="108.63" x2="488.32" y2="108.63" stroke="#f08af0" stroke-width="0.6" opacity="1.0"/>
<line x1="482.90" y1="99.52" x2="482.90" y2="109.62" stroke="#f08af0" stroke-width="0.6" opacity="1.0"/>
<line x1="481.40" y1="99.52" x2="484.40" y2="99.52" stroke="#f08af0" stroke-width="0.6" opacity="1.0"/>
<line x1="481.40" y1="109.62" x2="484.40" y2="109.62" stroke="#f08af0" stroke-width="0.6" opacity="1.0"/>
<line x1="478.98" y1="102.00" x2="478.98" y2="111.06" stroke="#f08af0" stroke-width="0.6" opacity="1.0"/>
<line x1="477.48" y1="102.00" x2="480.48" y2="102.00" stroke="#f08af0" stroke-width="0.6" opacity="1.0"/>
<line x1="477.48" y1="111.06" x2="480.48" y2="111.06" stroke="#f08af0" stroke-width="0.6" opacity="1.0"/>
<line x1="475.06" y1="104.70" x2="475.06" y2="112.71" stroke="#f08af0" stroke-width="0.6" opacity="1.0"/>
<line x1="473.56" y1="104.70" x2="476.56" y2="104.70" stroke="#f08af0" stroke-width="0.6" opacity="1.0"/>
<line x1="473.56" y1="112.71" x2="476.56" y2="112.71" stroke="#f08af0" stroke-width="0.6" opacity="1.0"/>
<line x1="471.14" y1="106.65" x2="471.14" y2="113.88" stroke="#f08af0" stroke-width="0.6" opacity="1.0"/>
<line x1="469.64" y1="106.65" x2="472.64" y2="106.65" stroke="#f08af0" stroke-width="0.6" opacity="1.0"/>
<line x1="469.64" y1="113.88" x2="472.64" y2="113.88" stroke="#f08af0" stroke-width="0.6" opacity="1.0"/>
<line x1="467.22" y1="108.85" x2="467.22" y2="115.29" stroke="#f08af0" stroke-width="0.6" opacity="1.0"/>
<line x1="465.72" y1="108.85" x2="468.72" y2="108.85" stroke="#f08af0" stroke-width="0.6" opacity="1.0"/>
<line x1="465.72" y1="115.29" x2="468.72" y2="115.29" stroke="#f08af0" stroke-width="0.6" opacity="1.0"/>
<line x1="463.30" y1="111.57" x2="463.30" y2="117.23" stroke="#f08af0" stroke-width="0.6" opacity="1.0"/>
<line x1="461.80" y1="111.57" x2="464.80" y2="111.57" stroke="#f08af0" stroke-width="0.6" opacity="1.0"/>
<line x1="461.80" y1="117.23" x2="464.80" y2="117.23" stroke="#f08af0" stroke-width="0.6" opacity="1.0"/>
<line x1="459.38" y1="114.38" x2="459.38" y2="119.30" stroke="#f08af0" stroke-width="0.6" opacity="1.0"/>
<line x1="457.88" y1="114.38" x2="460.88" y2="114.38" stroke="#f08af0" stroke-width="0.6" opacity="1.0"/>
<line x1="457.88" y1="119.30" x2="460.88" y2="119.30" stroke="#f08af0" stroke-width="0.6" opacity="1.0"/>
<line x1="455.46" y1="117.58" x2="455.46" y2="121.99" stroke="#f08af0" stroke-width="0.6" opacity="1.0"/>
<line x1="453.96" y1="117.58" x2="456.96" y2="117.58" stroke="#f08af0" stroke-width="0.6" opacity="1.0"/>
<line x1="453.96" y1="121.99" x2="456.96" y2="121.99" stroke="#f08af0" stroke-width="0.6" opacity="1.0"/>
<line x1="451.54" y1="120.71" x2="451.54" y2="124.61" stroke="#f08af0" stroke-width="0.6" opacity="1.0"/>
<line x1="450.04" y1="120.71" x2="453.04" y2="120.71" stroke="#f08af0" stroke-width="0.6" opacity="1.0"/>
<line x1="450.04" y1="124.61" x2="453.04" y2="124.61" stroke="#f08af0" stroke-width="0.6" opacity="1.0"/>
<line x1="447.62" y1="123.34" x2="447.62" y2="126.73" stroke="#f08af0" stroke-width="0.6" opacity="1.0"/>
<line x1="446.12" y1="123.34" x2="449.12" y2="123.34" stroke="#f08af0" stroke-width="0.6" opacity="1.0"/>
<line x1="446.12" y1="126.73" x2="449.12" y2="126.73" stroke="#f08af0" stroke-width="0.6" opacity="1.0"/>
<line x1="443.70" y1="125.28" x2="443.70" y2="128.16" stroke="#f08af0" stroke-width="0.6" opacity="1.0"/>
<line x1="442.20" y1="125.28" x2="445.20" y2="125.28" stroke="#f08af0" stroke-width="0.6" opacity="1.0"/>
<line x1="442.20" y1="128.16" x2="445.20" y2="128.16" stroke="#f08af0" stroke-width="0.6" opacity="1.0"/>
<line x1="439.78" y1="128.92" x2="439.78" y2="131.31" stroke="#f08af0" stroke-width="0.6" opacity="1.0"/>
<line x1="438.28" y1="128.92" x2="441.28" y2="128.92" stroke="#f08af0" stroke-width="0.6" opacity="1.0"/>
<line x1="438.28" y1="131.31" x2="441.28" y2="131.31" stroke="#f08af0" stroke-width="0.6" opacity="1.0"/>
<line x1="435.86" y1="131.94" x2="435.86" y2="134.10" stroke="#f08af0" stroke-width="0.6" opacity="1.0"/>
<line x1="434.36" y1="131.94" x2="437.36" y2="131.94" stroke="#f08af0" stroke-width="0.6" opacity="1.0"/>
<line x1="434.36" y1="134.10" x2="437.36" y2="134.10" stroke="#f08af0" stroke-width="0.6" opacity="1.0"/>
<line x1="431.94" y1="134.45" x2="431.94" y2="136.36" stroke="#f08af0" stroke-width="0.6" opacity="1.0"/>
<line x1="430.44" y1="134.45" x2="433.44" y2="134.45" stroke="#f08af0" stroke-width="0.6" opacity="1.0"/>
<line x1="430.44" y1="136.36" x2="433.44" y2="136.36" stroke="#f08af0" stroke-width="0.6" opacity="1.0"/>
<line x1="428.02" y1="136.89" x2="428.02" y2="138.58" stroke="#f08af0" stroke-width="0.6" opacity="1.0"/>
<line x1="426.52" y1="136.89" x2="429.52" y2="136.89" stroke="#f08af0" stroke-width="0.6" opacity="1.0"/>
<line x1="426.52" y1="138.58" x2="429.52" y2="138.58" stroke="#f08af0" stroke-width="0.6" opacity="1.0"/>
<line x1="424.10" y1="138.39" x2="424.10" y2="139.83" stroke="#f08af0" stroke-width="0.6" opacity="1.0"/>
<line x1="422.60" y1="138.39" x2="425.60" y2="138.39" stroke="#f08af0" stroke-width="0.6" opacity="1.0"/>
<line x1="422.60" y1="139.83" x2="425.60" y2="139.83" stroke="#f08af0" stroke-width="0.6" opacity="1.0"/>
<line x1="420.18" y1="139.36" x2="420.18" y2="140.57" stroke="#f08af0" stroke-width="0.6" opacity="1.0"/>
<line x1="418.68" y1="139.36" x2="421.68" y2="139.36" stroke="#f08af0" stroke-width="0.6" opacity="1.0"/>
<line x1="418.68" y1="140.57" x2="421.68" y2="140.57" stroke="#f08af0" stroke-width="0.6" opacity="1.0"/>
<path d="M402.60,162.20 L402.72,161.26 L402.89,159.94 L403.08,158.39 L403.30,156.74 L403.55,155.13 L403.80,153.70 L404.06,152.42 L404.33,151.16 L404.62,149.95 L404.94,148.79 L405.30,147.70 L405.70,146.70 L406.15,145.77 L406.64,144.90 L407.17,144.09 L407.73,143.37 L408.31,142.74 L408.90,142.20 L409.50,141.79 L410.10,141.50 L410.73,141.31 L411.39,141.16 L412.07,141.04 L412.80,140.90 L413.58,140.76 L414.41,140.66 L415.28,140.58 L416.16,140.50 L417.04,140.41 L417.90,140.30 L418.75,140.18 L419.60,140.05 L420.45,139.92 L421.30,139.77 L422.15,139.60 L423.00,139.40 L423.85,139.18 L424.70,138.94 L425.55,138.69 L426.40,138.40 L427.25,138.07 L428.10,137.70 L428.95,137.27 L429.80,136.77 L430.65,136.24 L431.50,135.69 L432.35,135.14 L433.20,134.60 L434.05,134.09 L434.90,133.59 L435.75,133.09 L436.60,132.57 L437.45,132.01 L438.30,131.40 L439.15,130.70 L440.00,129.91 L440.85,129.09 L441.70,128.29 L442.55,127.54 L443.40,126.90 L444.25,126.40 L445.10,126.01 L445.95,125.68 L446.80,125.37 L447.65,125.02 L448.50,124.60 L449.35,124.10 L450.20,123.57 L451.05,123.00 L451.90,122.41 L452.75,121.81 L453.60,121.20 L454.45,120.57 L455.30,119.91 L456.15,119.24 L457.00,118.57 L457.85,117.92 L458.70,117.30 L459.55,116.72 L460.40,116.17 L461.25,115.64 L462.10,115.12 L462.95,114.61 L463.80,114.10 L464.63,113.60 L465.45,113.10 L466.27,112.61 L467.10,112.13 L467.97,111.66 L468.90,111.20 L469.91,110.75 L470.98,110.32 L472.09,109.90 L473.21,109.48 L474.29,109.05 L475.30,108.60 L476.23,108.13 L477.12,107.63 L477.97,107.13 L478.80,106.63 L479.64,106.15 L480.50,105.70 L481.38,105.27 L482.26,104.86 L483.15,104.46 L484.04,104.08 L484.92,103.72 L485.80,103.40 L486.64,103.11 L487.44,102.86 L488.24,102.64 L489.07,102.43 L489.98,102.22 L491.00,102.00 L492.16,101.77 L493.43,101.53 L494.78,101.30 L496.17,101.08 L497.55,100.88 L498.90,100.70 L500.22,100.57 L501.53,100.47 L502.85,100.40 L504.17,100.33 L505.48,100.23 L506.80,100.10 L508.12,99.94 L509.43,99.77 L510.75,99.58 L512.07,99.36 L513.38,99.11 L514.70,98.80 L516.02,98.43 L517.34,97.99 L518.66,97.51 L519.97,97.01 L521.29,96.54 L522.60,96.10 L523.87,95.71 L525.10,95.34 L526.33,94.99 L527.60,94.64 L528.94,94.28 L530.40,93.90 L532.04,93.51 L533.83,93.13 L535.70,92.74 L537.57,92.31 L539.36,91.84 L541.00,91.30 L542.48,90.66 L543.86,89.92 L545.16,89.14 L546.41,88.34 L547.61,87.58 L548.80,86.90 L549.94,86.29 L551.01,85.73 L552.04,85.19 L553.07,84.69 L554.11,84.19 L555.20,83.70 L556.34,83.24 L557.51,82.83 L558.69,82.43 L559.89,82.01 L561.10,81.55 L562.30,81.00 L563.51,80.37 L564.72,79.67 L565.94,78.92 L567.16,78.14 L568.38,77.33 L569.60,76.50 L570.82,75.63 L572.04,74.70 L573.26,73.75 L574.47,72.80 L575.69,71.87 L576.90,71.00 L578.10,70.18 L579.30,69.40 L580.50,68.64 L581.70,67.90 L582.90,67.19 L584.10,66.50 L585.31,65.84 L586.53,65.20 L587.74,64.59 L588.96,64.00 L590.18,63.40 L591.40,62.80 L592.62,62.21 L593.83,61.63 L595.05,61.06 L596.27,60.47 L597.48,59.86 L598.70,59.20 L599.92,58.49 L601.13,57.74 L602.35,56.96 L603.57,56.16 L604.78,55.37 L606.00,54.60 L607.22,53.83 L608.43,53.06 L609.65,52.29 L610.87,51.54 L612.08,50.80 L613.30,50.10 L614.52,49.43 L615.73,48.77 L616.95,48.14 L618.17,47.53 L619.38,46.95 L620.60,46.40 L621.82,45.90 L623.03,45.46 L624.25,45.05 L625.47,44.64 L626.68,44.20 L627.90,43.70 L629.15,43.11 L630.44,42.46 L631.72,41.77 L632.97,41.10 L634.15,40.50 L635.20,40.00 L636.16,39.62 L637.07,39.31 L637.91,39.07 L638.64,38.88 L639.24,38.73 L639.70,38.60" fill="none" stroke="#dc1edc" stroke-width="2.1" stroke-linejoin="round" stroke-linecap="round" />
<line x1="408.70" y1="20.30" x2="431.50" y2="20.30" stroke="#0a0a96" stroke-width="2.1" />
<line x1="408.70" y1="32.80" x2="431.50" y2="32.80" stroke="#dc1edc" stroke-width="2.1" />
<text x="434.20" y="23.90" font-size="10.0" text-anchor="start" font-weight="normal" fill="#1c1c1c" >miR-762 inhibitor</text>
<text x="434.20" y="36.30" font-size="10.0" text-anchor="start" font-weight="normal" fill="#1c1c1c" >Inhibitor NC</text>
<line x1="116.80" y1="263.80" x2="116.80" y2="271.30" stroke="#8a8a8a" stroke-width="0.8" />
<line x1="115.60" y1="263.80" x2="118.00" y2="263.80" stroke="#8a8a8a" stroke-width="0.8" />
<rect x="108.90" y="271.30" width="15.90" height="76.00" fill="#fff"/>
<line x1="108.90" y1="271.30" x2="108.90" y2="347.30" stroke="#b4b4b4" stroke-width="1.0" />
<line x1="124.80" y1="271.30" x2="124.80" y2="347.30" stroke="#505050" stroke-width="1.0" />
<line x1="108.40" y1="271.30" x2="125.30" y2="271.30" stroke="#464646" stroke-width="1.0" />
<line x1="155.80" y1="230.50" x2="155.80" y2="244.90" stroke="#8a8a8a" stroke-width="0.8" />
<line x1="154.60" y1="230.50" x2="157.00" y2="230.50" stroke="#8a8a8a" stroke-width="0.8" />
<rect x="147.70" y="244.90" width="16.20" height="102.40" fill="#000"/>
<path d="M153.10,223.10 L153.10,227.70 M151.11,224.25 L155.09,226.55 M155.09,224.25 L151.11,226.55 " stroke="#505050" stroke-width="1.1" stroke-linecap="round" fill="none"/>
<path d="M158.90,223.10 L158.90,227.70 M156.91,224.25 L160.89,226.55 M160.89,224.25 L156.91,226.55 " stroke="#505050" stroke-width="1.1" stroke-linecap="round" fill="none"/>
<text x="117.00" y="360.80" font-size="9.4" text-anchor="middle" font-weight="normal" fill="#1c1c1c" >NC</text>
<text x="154.60" y="360.80" font-size="9.4" text-anchor="middle" font-weight="normal" fill="#1c1c1c" >miR-762</text>
<text x="154.60" y="372.50" font-size="9.4" text-anchor="middle" font-weight="normal" fill="#1c1c1c" >mimic</text>
<text x="56.4" y="282.8" font-size="10.8" text-anchor="middle" fill="#1c1c1c" transform="rotate(-90 56.4 282.8)">Relative expression of <tspan font-style="italic">PCNA</tspan> mRNA</text>
<line x1="116.70" y1="403.40" x2="116.70" y2="419.20" stroke="#8a8a8a" stroke-width="0.8" />
<line x1="115.50" y1="403.40" x2="117.90" y2="403.40" stroke="#8a8a8a" stroke-width="0.8" />
<rect x="108.70" y="419.20" width="16.00" height="103.70" fill="#fff"/>
<line x1="108.70" y1="419.20" x2="108.70" y2="522.90" stroke="#b4b4b4" stroke-width="1.0" />
<line x1="124.70" y1="419.20" x2="124.70" y2="522.90" stroke="#505050" stroke-width="1.0" />
<line x1="108.20" y1="419.20" x2="125.20" y2="419.20" stroke="#464646" stroke-width="1.0" />
<line x1="155.90" y1="449.60" x2="155.90" y2="451.10" stroke="#8a8a8a" stroke-width="0.8" />
<line x1="154.70" y1="449.60" x2="157.10" y2="449.60" stroke="#8a8a8a" stroke-width="0.8" />
<rect x="147.90" y="451.10" width="16.10" height="71.80" fill="#000"/>
<path d="M156.10,441.50 L156.10,446.10 M154.11,442.65 L158.09,444.95 M158.09,442.65 L154.11,444.95 " stroke="#505050" stroke-width="1.1" stroke-linecap="round" fill="none"/>
<text x="116.60" y="536.30" font-size="9.4" text-anchor="middle" font-weight="normal" fill="#1c1c1c" >Inhibitor</text>
<text x="116.60" y="547.90" font-size="9.4" text-anchor="middle" font-weight="normal" fill="#1c1c1c" >NC</text>
<text x="155.00" y="536.30" font-size="9.4" text-anchor="middle" font-weight="normal" fill="#1c1c1c" >miR-762</text>
<text x="155.00" y="547.90" font-size="9.4" text-anchor="middle" font-weight="normal" fill="#1c1c1c" >inhibitor</text>
<text x="56.4" y="457.9" font-size="10.8" text-anchor="middle" fill="#1c1c1c" transform="rotate(-90 56.4 457.9)">Relative expression of <tspan font-style="italic">PCNA</tspan> mRNA</text>
<rect x="262.00" y="229.20" width="23.20" height="118.40" fill="#fff"/>
<line x1="262.00" y1="229.20" x2="262.00" y2="347.60" stroke="#b4b4b4" stroke-width="1.0" />
<line x1="285.20" y1="229.20" x2="285.20" y2="347.60" stroke="#b4b4b4" stroke-width="1.0" />
<line x1="261.50" y1="229.20" x2="285.70" y2="229.20" stroke="#464646" stroke-width="1.0" />
<line x1="296.40" y1="240.40" x2="296.40" y2="242.10" stroke="#8a8a8a" stroke-width="0.8" />
<line x1="295.20" y1="240.40" x2="297.60" y2="240.40" stroke="#8a8a8a" stroke-width="0.8" />
<rect x="285.20" y="242.10" width="22.80" height="105.50" fill="#000"/>
<path d="M273.40,229.20 L273.40,223.60 L296.80,223.60 L296.80,240.40" fill="none" stroke="#bcbcbc" stroke-width="0.8"/>
<path d="M281.50,216.60 L281.50,221.20 M279.51,217.75 L283.49,220.05 M283.49,217.75 L279.51,220.05 " stroke="#505050" stroke-width="1.1" stroke-linecap="round" fill="none"/>
<path d="M287.30,216.60 L287.30,221.20 M285.31,217.75 L289.29,220.05 M289.29,217.75 L285.31,220.05 " stroke="#505050" stroke-width="1.1" stroke-linecap="round" fill="none"/>
<rect x="319.40" y="292.80" width="23.20" height="54.80" fill="#fff"/>
<line x1="319.40" y1="292.80" x2="319.40" y2="347.60" stroke="#b4b4b4" stroke-width="1.0" />
<line x1="342.60" y1="292.80" x2="342.60" y2="347.60" stroke="#b4b4b4" stroke-width="1.0" />
<line x1="318.90" y1="292.80" x2="343.10" y2="292.80" stroke="#464646" stroke-width="1.0" />
<rect x="342.60" y="282.10" width="23.10" height="65.50" fill="#000"/>
<line x1="330.90" y1="289.00" x2="330.90" y2="292.80" stroke="#8a8a8a" stroke-width="0.8" />
<line x1="329.70" y1="289.00" x2="332.10" y2="289.00" stroke="#8a8a8a" stroke-width="0.8" />
<line x1="354.30" y1="279.80" x2="354.30" y2="282.10" stroke="#8a8a8a" stroke-width="0.8" />
<line x1="353.10" y1="279.80" x2="355.50" y2="279.80" stroke="#8a8a8a" stroke-width="0.8" />
<path d="M330.90,289.00 L330.90,275.60 L354.30,275.60 L354.30,279.80" fill="none" stroke="#bcbcbc" stroke-width="0.8"/>
<path d="M340.00,268.40 L340.00,273.00 M338.01,269.55 L341.99,271.85 M341.99,269.55 L338.01,271.85 " stroke="#505050" stroke-width="1.1" stroke-linecap="round" fill="none"/>
<path d="M345.80,268.40 L345.80,273.00 M343.81,269.55 L347.79,271.85 M347.79,269.55 L343.81,271.85 " stroke="#505050" stroke-width="1.1" stroke-linecap="round" fill="none"/>
<line x1="388.80" y1="324.20" x2="388.80" y2="326.40" stroke="#8a8a8a" stroke-width="0.8" />
<line x1="387.60" y1="324.20" x2="390.00" y2="324.20" stroke="#8a8a8a" stroke-width="0.8" />
<rect x="377.40" y="326.40" width="22.80" height="21.20" fill="#fff"/>
<line x1="377.40" y1="326.40" x2="377.40" y2="347.60" stroke="#b4b4b4" stroke-width="1.0" />
<line x1="400.20" y1="326.40" x2="400.20" y2="347.60" stroke="#b4b4b4" stroke-width="1.0" />
<line x1="376.90" y1="326.40" x2="400.70" y2="326.40" stroke="#464646" stroke-width="1.0" />
<line x1="411.60" y1="322.70" x2="411.60" y2="324.60" stroke="#8a8a8a" stroke-width="0.8" />
<line x1="410.40" y1="322.70" x2="412.80" y2="322.70" stroke="#8a8a8a" stroke-width="0.8" />
<rect x="400.20" y="324.60" width="22.80" height="23.00" fill="#000"/>
<text x="284.50" y="358.90" font-size="9.0" text-anchor="middle" font-weight="normal" fill="#1c1c1c" >GO/G1</text>
<text x="342.60" y="358.90" font-size="9.0" text-anchor="middle" font-weight="normal" fill="#1c1c1c" >S</text>
<text x="400.20" y="358.90" font-size="9.0" text-anchor="middle" font-weight="normal" fill="#1c1c1c" >G2</text>
<text x="234.20" y="288.30" font-size="10.7" text-anchor="middle" font-weight="normal" fill="#1c1c1c" transform="rotate(-90 234.20 288.30)" >Cell population(%)</text>
<rect x="354.20" y="213.40" width="20.40" height="10.10" fill="#fff" stroke="#333" stroke-width="0.9"/>
<rect x="354.20" y="224.10" width="20.40" height="9.80" fill="#000"/>
<text x="376.50" y="221.92" font-size="8.6" text-anchor="start" font-weight="normal" fill="#1c1c1c" >NC</text>
<text x="376.50" y="232.82" font-size="8.6" text-anchor="start" font-weight="normal" fill="#1c1c1c" >miR-762 mimic</text>
<rect x="261.30" y="414.60" width="23.00" height="107.80" fill="#fff"/>
<line x1="261.30" y1="414.60" x2="261.30" y2="522.40" stroke="#b4b4b4" stroke-width="1.0" />
<line x1="284.30" y1="414.60" x2="284.30" y2="522.40" stroke="#b4b4b4" stroke-width="1.0" />
<line x1="260.80" y1="414.60" x2="284.80" y2="414.60" stroke="#464646" stroke-width="1.0" />
<rect x="284.30" y="407.00" width="23.10" height="115.40" fill="#000"/>
<line x1="274.40" y1="412.40" x2="274.40" y2="414.60" stroke="#8a8a8a" stroke-width="0.8" />
<line x1="273.20" y1="412.40" x2="275.60" y2="412.40" stroke="#8a8a8a" stroke-width="0.8" />
<line x1="295.50" y1="404.60" x2="295.50" y2="407.00" stroke="#8a8a8a" stroke-width="0.8" />
<line x1="294.30" y1="404.60" x2="296.70" y2="404.60" stroke="#8a8a8a" stroke-width="0.8" />
<path d="M274.40,412.40 L274.40,399.40 L295.50,399.40 L295.50,404.60" fill="none" stroke="#bcbcbc" stroke-width="0.8"/>
<path d="M281.80,392.30 L281.80,396.90 M279.81,393.45 L283.79,395.75 M283.79,393.45 L279.81,395.75 " stroke="#505050" stroke-width="1.1" stroke-linecap="round" fill="none"/>
<path d="M287.60,392.30 L287.60,396.90 M285.61,393.45 L289.59,395.75 M289.59,393.45 L285.61,395.75 " stroke="#505050" stroke-width="1.1" stroke-linecap="round" fill="none"/>
<line x1="330.40" y1="417.10" x2="330.40" y2="421.40" stroke="#8a8a8a" stroke-width="0.8" />
<line x1="329.20" y1="417.10" x2="331.60" y2="417.10" stroke="#8a8a8a" stroke-width="0.8" />
<rect x="318.40" y="421.40" width="23.40" height="101.00" fill="#fff"/>
<line x1="318.40" y1="421.40" x2="318.40" y2="522.40" stroke="#b4b4b4" stroke-width="1.0" />
<line x1="341.80" y1="421.40" x2="341.80" y2="522.40" stroke="#b4b4b4" stroke-width="1.0" />
<line x1="317.90" y1="421.40" x2="342.30" y2="421.40" stroke="#464646" stroke-width="1.0" />
<line x1="353.20" y1="419.60" x2="353.20" y2="423.20" stroke="#8a8a8a" stroke-width="0.8" />
<line x1="352.00" y1="419.60" x2="354.40" y2="419.60" stroke="#8a8a8a" stroke-width="0.8" />
<rect x="341.80" y="423.20" width="23.00" height="99.20" fill="#000"/>
<line x1="387.80" y1="495.60" x2="387.80" y2="499.40" stroke="#8a8a8a" stroke-width="0.8" />
<line x1="386.60" y1="495.60" x2="389.00" y2="495.60" stroke="#8a8a8a" stroke-width="0.8" />
<rect x="376.70" y="499.40" width="22.50" height="23.00" fill="#fff"/>
<line x1="376.70" y1="499.40" x2="376.70" y2="522.40" stroke="#b4b4b4" stroke-width="1.0" />
<line x1="399.20" y1="499.40" x2="399.20" y2="522.40" stroke="#b4b4b4" stroke-width="1.0" />
<line x1="376.20" y1="499.40" x2="399.70" y2="499.40" stroke="#464646" stroke-width="1.0" />
<line x1="410.60" y1="502.40" x2="410.60" y2="505.20" stroke="#8a8a8a" stroke-width="0.8" />
<line x1="409.40" y1="502.40" x2="411.80" y2="502.40" stroke="#8a8a8a" stroke-width="0.8" />
<rect x="399.20" y="505.20" width="23.30" height="17.20" fill="#000"/>
<text x="284.10" y="534.00" font-size="9.0" text-anchor="middle" font-weight="normal" fill="#1c1c1c" >GO/G1</text>
<text x="341.60" y="534.00" font-size="9.0" text-anchor="middle" font-weight="normal" fill="#1c1c1c" >S</text>
<text x="399.20" y="534.00" font-size="9.0" text-anchor="middle" font-weight="normal" fill="#1c1c1c" >G2</text>
<text x="234.60" y="462.60" font-size="10.7" text-anchor="middle" font-weight="normal" fill="#1c1c1c" transform="rotate(-90 234.60 462.60)" >Cell population(%)</text>
<rect x="351.00" y="381.10" width="19.30" height="10.20" fill="#fff" stroke="#333" stroke-width="0.9"/>
<rect x="351.00" y="391.90" width="19.30" height="9.60" fill="#000"/>
<text x="373.00" y="389.42" font-size="8.6" text-anchor="start" font-weight="normal" fill="#1c1c1c" >Inhibitor NC</text>
<text x="373.00" y="400.62" font-size="8.6" text-anchor="start" font-weight="normal" fill="#1c1c1c" >miR-762 inhibitor</text>
<line x1="543.20" y1="307.20" x2="543.20" y2="309.20" stroke="#8a8a8a" stroke-width="0.8" />
<line x1="542.00" y1="307.20" x2="544.40" y2="307.20" stroke="#8a8a8a" stroke-width="0.8" />
<rect x="532.50" y="309.20" width="21.30" height="38.10" fill="#fff"/>
<line x1="532.50" y1="309.20" x2="532.50" y2="347.30" stroke="#505050" stroke-width="1.0" />
<line x1="553.80" y1="309.20" x2="553.80" y2="347.30" stroke="#505050" stroke-width="1.0" />
<line x1="532.00" y1="309.20" x2="554.30" y2="309.20" stroke="#464646" stroke-width="1.0" />
<line x1="564.60" y1="333.30" x2="564.60" y2="334.90" stroke="#8a8a8a" stroke-width="0.8" />
<line x1="563.40" y1="333.30" x2="565.80" y2="333.30" stroke="#8a8a8a" stroke-width="0.8" />
<rect x="553.80" y="334.90" width="21.60" height="12.40" fill="#000"/>
<path d="M543.20,307.20 L543.20,301.30 L564.80,301.30 L564.80,333.30" fill="none" stroke="#bcbcbc" stroke-width="0.8"/>
<path d="M551.70,294.90 L551.70,299.50 M549.71,296.05 L553.69,298.35 M553.69,296.05 L549.71,298.35 " stroke="#505050" stroke-width="1.1" stroke-linecap="round" fill="none"/>
<path d="M557.50,294.90 L557.50,299.50 M555.51,296.05 L559.49,298.35 M559.49,296.05 L555.51,298.35 " stroke="#505050" stroke-width="1.1" stroke-linecap="round" fill="none"/>
<line x1="629.50" y1="229.10" x2="629.50" y2="236.10" stroke="#8a8a8a" stroke-width="0.8" />
<line x1="628.30" y1="229.10" x2="630.70" y2="229.10" stroke="#8a8a8a" stroke-width="0.8" />
<rect x="618.60" y="236.10" width="21.80" height="111.20" fill="#fff"/>
<line x1="618.60" y1="236.10" x2="618.60" y2="347.30" stroke="#505050" stroke-width="1.0" />
<line x1="640.40" y1="236.10" x2="640.40" y2="347.30" stroke="#505050" stroke-width="1.0" />
<line x1="618.10" y1="236.10" x2="640.90" y2="236.10" stroke="#464646" stroke-width="1.0" />
<line x1="651.00" y1="293.60" x2="651.00" y2="296.30" stroke="#8a8a8a" stroke-width="0.8" />
<line x1="649.80" y1="293.60" x2="652.20" y2="293.60" stroke="#8a8a8a" stroke-width="0.8" />
<rect x="640.40" y="296.30" width="21.50" height="51.00" fill="#000"/>
<path d="M629.50,229.10 L629.50,222.40 L651.00,222.40 L651.00,293.60" fill="none" stroke="#bcbcbc" stroke-width="0.8"/>
<path d="M637.70,214.00 L637.70,218.60 M635.71,215.15 L639.69,217.45 M639.69,215.15 L635.71,217.45 " stroke="#505050" stroke-width="1.1" stroke-linecap="round" fill="none"/>
<path d="M643.50,214.00 L643.50,218.60 M641.51,215.15 L645.49,217.45 M645.49,215.15 L641.51,217.45 " stroke="#505050" stroke-width="1.1" stroke-linecap="round" fill="none"/>
<text x="553.80" y="359.20" font-size="9.0" text-anchor="middle" font-weight="normal" fill="#1c1c1c" >UR</text>
<text x="640.30" y="359.20" font-size="9.0" text-anchor="middle" font-weight="normal" fill="#1c1c1c" >LR</text>
<text x="484.60" y="277.00" font-size="10.7" text-anchor="middle" font-weight="normal" fill="#1c1c1c" transform="rotate(-90 484.60 277.00)" >Cell population(%)</text>
<rect x="518.60" y="205.50" width="18.70" height="9.90" fill="#fff" stroke="#333" stroke-width="0.9"/>
<rect x="518.60" y="216.00" width="18.70" height="9.30" fill="#000"/>
<text x="540.30" y="213.32" font-size="8.6" text-anchor="start" font-weight="normal" fill="#1c1c1c" >NC</text>
<text x="540.30" y="224.22" font-size="8.6" text-anchor="start" font-weight="normal" fill="#1c1c1c" >miR-762 mimic</text>
<line x1="542.20" y1="427.00" x2="542.20" y2="434.10" stroke="#8a8a8a" stroke-width="0.8" />
<line x1="541.00" y1="427.00" x2="543.40" y2="427.00" stroke="#8a8a8a" stroke-width="0.8" />
<rect x="531.30" y="434.10" width="21.90" height="88.30" fill="#fff"/>
<line x1="531.30" y1="434.10" x2="531.30" y2="522.40" stroke="#505050" stroke-width="1.0" />
<line x1="553.20" y1="434.10" x2="553.20" y2="522.40" stroke="#505050" stroke-width="1.0" />
<line x1="530.80" y1="434.10" x2="553.70" y2="434.10" stroke="#464646" stroke-width="1.0" />
<line x1="564.10" y1="411.50" x2="564.10" y2="415.00" stroke="#8a8a8a" stroke-width="0.8" />
<line x1="562.90" y1="411.50" x2="565.30" y2="411.50" stroke="#8a8a8a" stroke-width="0.8" />
<rect x="553.20" y="415.00" width="21.80" height="107.40" fill="#000"/>
<path d="M542.20,427.00 L542.20,406.40 L564.10,406.40 L564.10,411.50" fill="none" stroke="#bcbcbc" stroke-width="0.8"/>
<path d="M549.80,399.70 L549.80,404.30 M547.81,400.85 L551.79,403.15 M551.79,400.85 L547.81,403.15 " stroke="#505050" stroke-width="1.1" stroke-linecap="round" fill="none"/>
<path d="M555.60,399.70 L555.60,404.30 M553.61,400.85 L557.59,403.15 M557.59,400.85 L553.61,403.15 " stroke="#505050" stroke-width="1.1" stroke-linecap="round" fill="none"/>
<line x1="628.60" y1="484.00" x2="628.60" y2="487.00" stroke="#8a8a8a" stroke-width="0.8" />
<line x1="627.40" y1="484.00" x2="629.80" y2="484.00" stroke="#8a8a8a" stroke-width="0.8" />
<rect x="618.20" y="487.00" width="21.70" height="35.40" fill="#fff"/>
<line x1="618.20" y1="487.00" x2="618.20" y2="522.40" stroke="#505050" stroke-width="1.0" />
<line x1="639.90" y1="487.00" x2="639.90" y2="522.40" stroke="#505050" stroke-width="1.0" />
<line x1="617.70" y1="487.00" x2="640.40" y2="487.00" stroke="#464646" stroke-width="1.0" />
<line x1="650.30" y1="458.00" x2="650.30" y2="462.10" stroke="#8a8a8a" stroke-width="0.8" />
<line x1="649.10" y1="458.00" x2="651.50" y2="458.00" stroke="#8a8a8a" stroke-width="0.8" />
<rect x="639.90" y="462.10" width="21.70" height="60.30" fill="#000"/>
<path d="M628.60,484.00 L628.60,451.70 L650.30,451.70 L650.30,458.00" fill="none" stroke="#bcbcbc" stroke-width="0.8"/>
<path d="M636.60,445.10 L636.60,449.70 M634.61,446.25 L638.59,448.55 M638.59,446.25 L634.61,448.55 " stroke="#505050" stroke-width="1.1" stroke-linecap="round" fill="none"/>
<path d="M642.40,445.10 L642.40,449.70 M640.41,446.25 L644.39,448.55 M644.39,446.25 L640.41,448.55 " stroke="#505050" stroke-width="1.1" stroke-linecap="round" fill="none"/>
<text x="553.20" y="534.50" font-size="9.0" text-anchor="middle" font-weight="normal" fill="#1c1c1c" >UR</text>
<text x="639.50" y="534.50" font-size="9.0" text-anchor="middle" font-weight="normal" fill="#1c1c1c" >LR</text>
<text x="484.60" y="458.90" font-size="10.7" text-anchor="middle" font-weight="normal" fill="#1c1c1c" transform="rotate(-90 484.60 458.90)" >Cell population(%)</text>
<rect x="570.60" y="377.00" width="19.80" height="10.00" fill="#fff" stroke="#333" stroke-width="0.9"/>
<rect x="570.60" y="387.60" width="19.80" height="9.60" fill="#000"/>
<text x="592.70" y="385.02" font-size="8.6" text-anchor="start" font-weight="normal" fill="#1c1c1c" >Inhibitor NC</text>
<text x="592.70" y="395.62" font-size="8.6" text-anchor="start" font-weight="normal" fill="#1c1c1c" >miR-762 inhibitor</text>
<line x1="72.55" y1="13.40" x2="72.55" y2="162.60" stroke="#2a2a2a" stroke-width="1.0" />
<line x1="69.95" y1="162.10" x2="72.55" y2="162.10" stroke="#2a2a2a" stroke-width="0.9" />
<line x1="69.95" y1="135.06" x2="72.55" y2="135.06" stroke="#2a2a2a" stroke-width="0.9" />
<line x1="69.95" y1="108.02" x2="72.55" y2="108.02" stroke="#2a2a2a" stroke-width="0.9" />
<line x1="69.95" y1="80.98" x2="72.55" y2="80.98" stroke="#2a2a2a" stroke-width="0.9" />
<line x1="69.95" y1="53.94" x2="72.55" y2="53.94" stroke="#2a2a2a" stroke-width="0.9" />
<line x1="69.95" y1="26.90" x2="72.55" y2="26.90" stroke="#2a2a2a" stroke-width="0.9" />
<line x1="71.15" y1="148.58" x2="72.55" y2="148.58" stroke="#2a2a2a" stroke-width="0.8" />
<line x1="71.15" y1="121.54" x2="72.55" y2="121.54" stroke="#2a2a2a" stroke-width="0.8" />
<line x1="71.15" y1="94.50" x2="72.55" y2="94.50" stroke="#2a2a2a" stroke-width="0.8" />
<line x1="71.15" y1="67.46" x2="72.55" y2="67.46" stroke="#2a2a2a" stroke-width="0.8" />
<line x1="71.15" y1="40.42" x2="72.55" y2="40.42" stroke="#2a2a2a" stroke-width="0.8" />
<line x1="71.15" y1="13.38" x2="72.55" y2="13.38" stroke="#2a2a2a" stroke-width="0.8" />
<text x="67.90" y="164.92" font-size="8.3" text-anchor="end" font-weight="normal" fill="#1c1c1c" >0</text>
<text x="67.90" y="137.88" font-size="8.3" text-anchor="end" font-weight="normal" fill="#1c1c1c" >2</text>
<text x="67.90" y="110.84" font-size="8.3" text-anchor="end" font-weight="normal" fill="#1c1c1c" >4</text>
<text x="67.90" y="83.80" font-size="8.3" text-anchor="end" font-weight="normal" fill="#1c1c1c" >6</text>
<text x="67.90" y="56.76" font-size="8.3" text-anchor="end" font-weight="normal" fill="#1c1c1c" >8</text>
<text x="67.90" y="29.72" font-size="8.3" text-anchor="end" font-weight="normal" fill="#1c1c1c" >10</text>
<line x1="72.05" y1="162.10" x2="320.68" y2="162.10" stroke="#2a2a2a" stroke-width="1.0" />
<line x1="72.55" y1="162.10" x2="72.55" y2="164.70" stroke="#2a2a2a" stroke-width="0.9" />
<line x1="92.40" y1="162.10" x2="92.40" y2="164.70" stroke="#2a2a2a" stroke-width="0.9" />
<line x1="112.25" y1="162.10" x2="112.25" y2="164.70" stroke="#2a2a2a" stroke-width="0.9" />
<line x1="132.10" y1="162.10" x2="132.10" y2="164.70" stroke="#2a2a2a" stroke-width="0.9" />
<line x1="151.95" y1="162.10" x2="151.95" y2="164.70" stroke="#2a2a2a" stroke-width="0.9" />
<line x1="171.80" y1="162.10" x2="171.80" y2="164.70" stroke="#2a2a2a" stroke-width="0.9" />
<line x1="191.65" y1="162.10" x2="191.65" y2="164.70" stroke="#2a2a2a" stroke-width="0.9" />
<line x1="211.50" y1="162.10" x2="211.50" y2="164.70" stroke="#2a2a2a" stroke-width="0.9" />
<line x1="231.35" y1="162.10" x2="231.35" y2="164.70" stroke="#2a2a2a" stroke-width="0.9" />
<line x1="251.20" y1="162.10" x2="251.20" y2="164.70" stroke="#2a2a2a" stroke-width="0.9" />
<line x1="271.05" y1="162.10" x2="271.05" y2="164.70" stroke="#2a2a2a" stroke-width="0.9" />
<line x1="290.90" y1="162.10" x2="290.90" y2="164.70" stroke="#2a2a2a" stroke-width="0.9" />
<line x1="310.75" y1="162.10" x2="310.75" y2="164.70" stroke="#2a2a2a" stroke-width="0.9" />
<line x1="82.47" y1="162.10" x2="82.47" y2="163.50" stroke="#2a2a2a" stroke-width="0.8" />
<line x1="102.33" y1="162.10" x2="102.33" y2="163.50" stroke="#2a2a2a" stroke-width="0.8" />
<line x1="122.17" y1="162.10" x2="122.17" y2="163.50" stroke="#2a2a2a" stroke-width="0.8" />
<line x1="142.03" y1="162.10" x2="142.03" y2="163.50" stroke="#2a2a2a" stroke-width="0.8" />
<line x1="161.88" y1="162.10" x2="161.88" y2="163.50" stroke="#2a2a2a" stroke-width="0.8" />
<line x1="181.73" y1="162.10" x2="181.73" y2="163.50" stroke="#2a2a2a" stroke-width="0.8" />
<line x1="201.57" y1="162.10" x2="201.57" y2="163.50" stroke="#2a2a2a" stroke-width="0.8" />
<line x1="221.43" y1="162.10" x2="221.43" y2="163.50" stroke="#2a2a2a" stroke-width="0.8" />
<line x1="241.27" y1="162.10" x2="241.27" y2="163.50" stroke="#2a2a2a" stroke-width="0.8" />
<line x1="261.12" y1="162.10" x2="261.12" y2="163.50" stroke="#2a2a2a" stroke-width="0.8" />
<line x1="280.98" y1="162.10" x2="280.98" y2="163.50" stroke="#2a2a2a" stroke-width="0.8" />
<line x1="300.82" y1="162.10" x2="300.82" y2="163.50" stroke="#2a2a2a" stroke-width="0.8" />
<line x1="320.68" y1="162.10" x2="320.68" y2="163.50" stroke="#2a2a2a" stroke-width="0.8" />
<line x1="402.50" y1="13.40" x2="402.50" y2="162.80" stroke="#2a2a2a" stroke-width="1.0" />
<line x1="399.90" y1="162.30" x2="402.50" y2="162.30" stroke="#2a2a2a" stroke-width="0.9" />
<line x1="399.90" y1="137.48" x2="402.50" y2="137.48" stroke="#2a2a2a" stroke-width="0.9" />
<line x1="399.90" y1="112.66" x2="402.50" y2="112.66" stroke="#2a2a2a" stroke-width="0.9" />
<line x1="399.90" y1="87.84" x2="402.50" y2="87.84" stroke="#2a2a2a" stroke-width="0.9" />
<line x1="399.90" y1="63.02" x2="402.50" y2="63.02" stroke="#2a2a2a" stroke-width="0.9" />
<line x1="399.90" y1="38.20" x2="402.50" y2="38.20" stroke="#2a2a2a" stroke-width="0.9" />
<line x1="399.90" y1="13.38" x2="402.50" y2="13.38" stroke="#2a2a2a" stroke-width="0.9" />
<line x1="401.10" y1="149.89" x2="402.50" y2="149.89" stroke="#2a2a2a" stroke-width="0.8" />
<line x1="401.10" y1="125.07" x2="402.50" y2="125.07" stroke="#2a2a2a" stroke-width="0.8" />
<line x1="401.10" y1="100.25" x2="402.50" y2="100.25" stroke="#2a2a2a" stroke-width="0.8" />
<line x1="401.10" y1="75.43" x2="402.50" y2="75.43" stroke="#2a2a2a" stroke-width="0.8" />
<line x1="401.10" y1="50.61" x2="402.50" y2="50.61" stroke="#2a2a2a" stroke-width="0.8" />
<line x1="401.10" y1="25.79" x2="402.50" y2="25.79" stroke="#2a2a2a" stroke-width="0.8" />
<text x="397.60" y="165.12" font-size="8.3" text-anchor="end" font-weight="normal" fill="#1c1c1c" >0</text>
<text x="397.60" y="140.30" font-size="8.3" text-anchor="end" font-weight="normal" fill="#1c1c1c" >1</text>
<text x="397.60" y="115.48" font-size="8.3" text-anchor="end" font-weight="normal" fill="#1c1c1c" >2</text>
<text x="397.60" y="90.66" font-size="8.3" text-anchor="end" font-weight="normal" fill="#1c1c1c" >3</text>
<text x="397.60" y="65.84" font-size="8.3" text-anchor="end" font-weight="normal" fill="#1c1c1c" >4</text>
<text x="397.60" y="41.02" font-size="8.3" text-anchor="end" font-weight="normal" fill="#1c1c1c" >5</text>
<text x="397.60" y="16.20" font-size="8.3" text-anchor="end" font-weight="normal" fill="#1c1c1c" >6</text>
<line x1="402.00" y1="162.30" x2="648.75" y2="162.30" stroke="#2a2a2a" stroke-width="1.0" />
<line x1="402.50" y1="162.30" x2="402.50" y2="164.90" stroke="#2a2a2a" stroke-width="0.9" />
<line x1="422.20" y1="162.30" x2="422.20" y2="164.90" stroke="#2a2a2a" stroke-width="0.9" />
<line x1="441.90" y1="162.30" x2="441.90" y2="164.90" stroke="#2a2a2a" stroke-width="0.9" />
<line x1="461.60" y1="162.30" x2="461.60" y2="164.90" stroke="#2a2a2a" stroke-width="0.9" />
<line x1="481.30" y1="162.30" x2="481.30" y2="164.90" stroke="#2a2a2a" stroke-width="0.9" />
<line x1="501.00" y1="162.30" x2="501.00" y2="164.90" stroke="#2a2a2a" stroke-width="0.9" />
<line x1="520.70" y1="162.30" x2="520.70" y2="164.90" stroke="#2a2a2a" stroke-width="0.9" />
<line x1="540.40" y1="162.30" x2="540.40" y2="164.90" stroke="#2a2a2a" stroke-width="0.9" />
<line x1="560.10" y1="162.30" x2="560.10" y2="164.90" stroke="#2a2a2a" stroke-width="0.9" />
<line x1="579.80" y1="162.30" x2="579.80" y2="164.90" stroke="#2a2a2a" stroke-width="0.9" />
<line x1="599.50" y1="162.30" x2="599.50" y2="164.90" stroke="#2a2a2a" stroke-width="0.9" />
<line x1="619.20" y1="162.30" x2="619.20" y2="164.90" stroke="#2a2a2a" stroke-width="0.9" />
<line x1="638.90" y1="162.30" x2="638.90" y2="164.90" stroke="#2a2a2a" stroke-width="0.9" />
<line x1="412.35" y1="162.30" x2="412.35" y2="163.70" stroke="#2a2a2a" stroke-width="0.8" />
<line x1="432.05" y1="162.30" x2="432.05" y2="163.70" stroke="#2a2a2a" stroke-width="0.8" />
<line x1="451.75" y1="162.30" x2="451.75" y2="163.70" stroke="#2a2a2a" stroke-width="0.8" />
<line x1="471.45" y1="162.30" x2="471.45" y2="163.70" stroke="#2a2a2a" stroke-width="0.8" />
<line x1="491.15" y1="162.30" x2="491.15" y2="163.70" stroke="#2a2a2a" stroke-width="0.8" />
<line x1="510.85" y1="162.30" x2="510.85" y2="163.70" stroke="#2a2a2a" stroke-width="0.8" />
<line x1="530.55" y1="162.30" x2="530.55" y2="163.70" stroke="#2a2a2a" stroke-width="0.8" />
<line x1="550.25" y1="162.30" x2="550.25" y2="163.70" stroke="#2a2a2a" stroke-width="0.8" />
<line x1="569.95" y1="162.30" x2="569.95" y2="163.70" stroke="#2a2a2a" stroke-width="0.8" />
<line x1="589.65" y1="162.30" x2="589.65" y2="163.70" stroke="#2a2a2a" stroke-width="0.8" />
<line x1="609.35" y1="162.30" x2="609.35" y2="163.70" stroke="#2a2a2a" stroke-width="0.8" />
<line x1="629.05" y1="162.30" x2="629.05" y2="163.70" stroke="#2a2a2a" stroke-width="0.8" />
<line x1="648.75" y1="162.30" x2="648.75" y2="163.70" stroke="#2a2a2a" stroke-width="0.8" />
<line x1="77.70" y1="220.10" x2="77.70" y2="347.80" stroke="#2a2a2a" stroke-width="1.0" />
<line x1="75.10" y1="347.30" x2="77.70" y2="347.30" stroke="#2a2a2a" stroke-width="0.9" />
<line x1="75.10" y1="330.34" x2="77.70" y2="330.34" stroke="#2a2a2a" stroke-width="0.9" />
<line x1="75.10" y1="313.38" x2="77.70" y2="313.38" stroke="#2a2a2a" stroke-width="0.9" />
<line x1="75.10" y1="296.42" x2="77.70" y2="296.42" stroke="#2a2a2a" stroke-width="0.9" />
<line x1="75.10" y1="279.46" x2="77.70" y2="279.46" stroke="#2a2a2a" stroke-width="0.9" />
<line x1="75.10" y1="262.50" x2="77.70" y2="262.50" stroke="#2a2a2a" stroke-width="0.9" />
<line x1="75.10" y1="245.54" x2="77.70" y2="245.54" stroke="#2a2a2a" stroke-width="0.9" />
<line x1="75.10" y1="228.58" x2="77.70" y2="228.58" stroke="#2a2a2a" stroke-width="0.9" />
<line x1="76.30" y1="338.82" x2="77.70" y2="338.82" stroke="#2a2a2a" stroke-width="0.8" />
<line x1="76.30" y1="321.86" x2="77.70" y2="321.86" stroke="#2a2a2a" stroke-width="0.8" />
<line x1="76.30" y1="304.90" x2="77.70" y2="304.90" stroke="#2a2a2a" stroke-width="0.8" />
<line x1="76.30" y1="287.94" x2="77.70" y2="287.94" stroke="#2a2a2a" stroke-width="0.8" />
<line x1="76.30" y1="270.98" x2="77.70" y2="270.98" stroke="#2a2a2a" stroke-width="0.8" />
<line x1="76.30" y1="254.02" x2="77.70" y2="254.02" stroke="#2a2a2a" stroke-width="0.8" />
<line x1="76.30" y1="237.06" x2="77.70" y2="237.06" stroke="#2a2a2a" stroke-width="0.8" />
<line x1="76.30" y1="220.10" x2="77.70" y2="220.10" stroke="#2a2a2a" stroke-width="0.8" />
<text x="73.20" y="350.22" font-size="8.6" text-anchor="end" font-weight="normal" fill="#1c1c1c" >0.0</text>
<text x="73.20" y="333.26" font-size="8.6" text-anchor="end" font-weight="normal" fill="#1c1c1c" >0.2</text>
<text x="73.20" y="316.30" font-size="8.6" text-anchor="end" font-weight="normal" fill="#1c1c1c" >0.4</text>
<text x="73.20" y="299.34" font-size="8.6" text-anchor="end" font-weight="normal" fill="#1c1c1c" >0.6</text>
<text x="73.20" y="282.38" font-size="8.6" text-anchor="end" font-weight="normal" fill="#1c1c1c" >0.8</text>
<text x="73.20" y="265.42" font-size="8.6" text-anchor="end" font-weight="normal" fill="#1c1c1c" >1.0</text>
<text x="73.20" y="248.46" font-size="8.6" text-anchor="end" font-weight="normal" fill="#1c1c1c" >1.2</text>
<text x="73.20" y="231.50" font-size="8.6" text-anchor="end" font-weight="normal" fill="#1c1c1c" >1.4</text>
<line x1="77.20" y1="347.30" x2="195.20" y2="347.30" stroke="#2a2a2a" stroke-width="1.0" />
<line x1="77.70" y1="347.30" x2="77.70" y2="349.90" stroke="#2a2a2a" stroke-width="0.9" />
<line x1="116.80" y1="347.30" x2="116.80" y2="349.90" stroke="#2a2a2a" stroke-width="0.9" />
<line x1="156.00" y1="347.30" x2="156.00" y2="349.90" stroke="#2a2a2a" stroke-width="0.9" />
<line x1="97.20" y1="347.30" x2="97.20" y2="348.70" stroke="#2a2a2a" stroke-width="0.8" />
<line x1="136.60" y1="347.30" x2="136.60" y2="348.70" stroke="#2a2a2a" stroke-width="0.8" />
<line x1="175.90" y1="347.30" x2="175.90" y2="348.70" stroke="#2a2a2a" stroke-width="0.8" />
<line x1="195.20" y1="347.30" x2="195.20" y2="348.70" stroke="#2a2a2a" stroke-width="0.8" />
<line x1="77.70" y1="395.70" x2="77.70" y2="523.40" stroke="#2a2a2a" stroke-width="1.0" />
<line x1="75.10" y1="522.90" x2="77.70" y2="522.90" stroke="#2a2a2a" stroke-width="0.9" />
<line x1="75.10" y1="505.94" x2="77.70" y2="505.94" stroke="#2a2a2a" stroke-width="0.9" />
<line x1="75.10" y1="488.98" x2="77.70" y2="488.98" stroke="#2a2a2a" stroke-width="0.9" />
<line x1="75.10" y1="472.02" x2="77.70" y2="472.02" stroke="#2a2a2a" stroke-width="0.9" />
<line x1="75.10" y1="455.06" x2="77.70" y2="455.06" stroke="#2a2a2a" stroke-width="0.9" />
<line x1="75.10" y1="438.10" x2="77.70" y2="438.10" stroke="#2a2a2a" stroke-width="0.9" />
<line x1="75.10" y1="421.14" x2="77.70" y2="421.14" stroke="#2a2a2a" stroke-width="0.9" />
<line x1="75.10" y1="404.18" x2="77.70" y2="404.18" stroke="#2a2a2a" stroke-width="0.9" />
<line x1="76.30" y1="514.42" x2="77.70" y2="514.42" stroke="#2a2a2a" stroke-width="0.8" />
<line x1="76.30" y1="497.46" x2="77.70" y2="497.46" stroke="#2a2a2a" stroke-width="0.8" />
<line x1="76.30" y1="480.50" x2="77.70" y2="480.50" stroke="#2a2a2a" stroke-width="0.8" />
<line x1="76.30" y1="463.54" x2="77.70" y2="463.54" stroke="#2a2a2a" stroke-width="0.8" />
<line x1="76.30" y1="446.58" x2="77.70" y2="446.58" stroke="#2a2a2a" stroke-width="0.8" />
<line x1="76.30" y1="429.62" x2="77.70" y2="429.62" stroke="#2a2a2a" stroke-width="0.8" />
<line x1="76.30" y1="412.66" x2="77.70" y2="412.66" stroke="#2a2a2a" stroke-width="0.8" />
<line x1="76.30" y1="395.70" x2="77.70" y2="395.70" stroke="#2a2a2a" stroke-width="0.8" />
<text x="73.20" y="525.82" font-size="8.6" text-anchor="end" font-weight="normal" fill="#1c1c1c" >0.0</text>
<text x="73.20" y="508.86" font-size="8.6" text-anchor="end" font-weight="normal" fill="#1c1c1c" >0.2</text>
<text x="73.20" y="491.90" font-size="8.6" text-anchor="end" font-weight="normal" fill="#1c1c1c" >0.4</text>
<text x="73.20" y="474.94" font-size="8.6" text-anchor="end" font-weight="normal" fill="#1c1c1c" >0.6</text>
<text x="73.20" y="457.98" font-size="8.6" text-anchor="end" font-weight="normal" fill="#1c1c1c" >0.8</text>
<text x="73.20" y="441.02" font-size="8.6" text-anchor="end" font-weight="normal" fill="#1c1c1c" >1.0</text>
<text x="73.20" y="424.06" font-size="8.6" text-anchor="end" font-weight="normal" fill="#1c1c1c" >1.2</text>
<text x="73.20" y="407.10" font-size="8.6" text-anchor="end" font-weight="normal" fill="#1c1c1c" >1.4</text>
<line x1="77.20" y1="522.90" x2="195.00" y2="522.90" stroke="#2a2a2a" stroke-width="1.0" />
<line x1="77.70" y1="522.90" x2="77.70" y2="525.50" stroke="#2a2a2a" stroke-width="0.9" />
<line x1="116.70" y1="522.90" x2="116.70" y2="525.50" stroke="#2a2a2a" stroke-width="0.9" />
<line x1="155.90" y1="522.90" x2="155.90" y2="525.50" stroke="#2a2a2a" stroke-width="0.9" />
<line x1="97.20" y1="522.90" x2="97.20" y2="524.30" stroke="#2a2a2a" stroke-width="0.8" />
<line x1="136.40" y1="522.90" x2="136.40" y2="524.30" stroke="#2a2a2a" stroke-width="0.8" />
<line x1="175.60" y1="522.90" x2="175.60" y2="524.30" stroke="#2a2a2a" stroke-width="0.8" />
<line x1="195.00" y1="522.90" x2="195.00" y2="524.30" stroke="#2a2a2a" stroke-width="0.8" />
<line x1="256.20" y1="221.60" x2="256.20" y2="348.10" stroke="#2a2a2a" stroke-width="1.0" />
<line x1="253.60" y1="347.60" x2="256.20" y2="347.60" stroke="#2a2a2a" stroke-width="0.9" />
<line x1="253.60" y1="328.22" x2="256.20" y2="328.22" stroke="#2a2a2a" stroke-width="0.9" />
<line x1="253.60" y1="308.83" x2="256.20" y2="308.83" stroke="#2a2a2a" stroke-width="0.9" />
<line x1="253.60" y1="289.45" x2="256.20" y2="289.45" stroke="#2a2a2a" stroke-width="0.9" />
<line x1="253.60" y1="270.06" x2="256.20" y2="270.06" stroke="#2a2a2a" stroke-width="0.9" />
<line x1="253.60" y1="250.68" x2="256.20" y2="250.68" stroke="#2a2a2a" stroke-width="0.9" />
<line x1="253.60" y1="231.29" x2="256.20" y2="231.29" stroke="#2a2a2a" stroke-width="0.9" />
<line x1="254.80" y1="337.91" x2="256.20" y2="337.91" stroke="#2a2a2a" stroke-width="0.8" />
<line x1="254.80" y1="318.52" x2="256.20" y2="318.52" stroke="#2a2a2a" stroke-width="0.8" />
<line x1="254.80" y1="299.14" x2="256.20" y2="299.14" stroke="#2a2a2a" stroke-width="0.8" />
<line x1="254.80" y1="279.75" x2="256.20" y2="279.75" stroke="#2a2a2a" stroke-width="0.8" />
<line x1="254.80" y1="260.37" x2="256.20" y2="260.37" stroke="#2a2a2a" stroke-width="0.8" />
<line x1="254.80" y1="240.98" x2="256.20" y2="240.98" stroke="#2a2a2a" stroke-width="0.8" />
<line x1="254.80" y1="221.60" x2="256.20" y2="221.60" stroke="#2a2a2a" stroke-width="0.8" />
<text x="251.90" y="350.56" font-size="8.7" text-anchor="end" font-weight="normal" fill="#1c1c1c" >0</text>
<text x="251.90" y="331.17" font-size="8.7" text-anchor="end" font-weight="normal" fill="#1c1c1c" >10</text>
<text x="251.90" y="311.79" font-size="8.7" text-anchor="end" font-weight="normal" fill="#1c1c1c" >20</text>
<text x="251.90" y="292.40" font-size="8.7" text-anchor="end" font-weight="normal" fill="#1c1c1c" >30</text>
<text x="251.90" y="273.02" font-size="8.7" text-anchor="end" font-weight="normal" fill="#1c1c1c" >40</text>
<text x="251.90" y="253.63" font-size="8.7" text-anchor="end" font-weight="normal" fill="#1c1c1c" >50</text>
<text x="251.90" y="234.25" font-size="8.7" text-anchor="end" font-weight="normal" fill="#1c1c1c" >60</text>
<line x1="255.70" y1="347.60" x2="429.00" y2="347.60" stroke="#2a2a2a" stroke-width="1.0" />
<line x1="285.20" y1="347.60" x2="285.20" y2="350.20" stroke="#2a2a2a" stroke-width="0.9" />
<line x1="342.60" y1="347.60" x2="342.60" y2="350.20" stroke="#2a2a2a" stroke-width="0.9" />
<line x1="400.20" y1="347.60" x2="400.20" y2="350.20" stroke="#2a2a2a" stroke-width="0.9" />
<line x1="256.20" y1="347.60" x2="256.20" y2="349.00" stroke="#2a2a2a" stroke-width="0.8" />
<line x1="313.90" y1="347.60" x2="313.90" y2="349.00" stroke="#2a2a2a" stroke-width="0.8" />
<line x1="371.40" y1="347.60" x2="371.40" y2="349.00" stroke="#2a2a2a" stroke-width="0.8" />
<line x1="429.00" y1="347.60" x2="429.00" y2="349.00" stroke="#2a2a2a" stroke-width="0.8" />
<line x1="255.20" y1="394.80" x2="255.20" y2="522.90" stroke="#2a2a2a" stroke-width="1.0" />
<line x1="252.60" y1="522.40" x2="255.20" y2="522.40" stroke="#2a2a2a" stroke-width="0.9" />
<line x1="252.60" y1="499.20" x2="255.20" y2="499.20" stroke="#2a2a2a" stroke-width="0.9" />
<line x1="252.60" y1="476.00" x2="255.20" y2="476.00" stroke="#2a2a2a" stroke-width="0.9" />
<line x1="252.60" y1="452.80" x2="255.20" y2="452.80" stroke="#2a2a2a" stroke-width="0.9" />
<line x1="252.60" y1="429.60" x2="255.20" y2="429.60" stroke="#2a2a2a" stroke-width="0.9" />
<line x1="252.60" y1="406.40" x2="255.20" y2="406.40" stroke="#2a2a2a" stroke-width="0.9" />
<line x1="253.80" y1="510.80" x2="255.20" y2="510.80" stroke="#2a2a2a" stroke-width="0.8" />
<line x1="253.80" y1="487.60" x2="255.20" y2="487.60" stroke="#2a2a2a" stroke-width="0.8" />
<line x1="253.80" y1="464.40" x2="255.20" y2="464.40" stroke="#2a2a2a" stroke-width="0.8" />
<line x1="253.80" y1="441.20" x2="255.20" y2="441.20" stroke="#2a2a2a" stroke-width="0.8" />
<line x1="253.80" y1="418.00" x2="255.20" y2="418.00" stroke="#2a2a2a" stroke-width="0.8" />
<line x1="253.80" y1="394.80" x2="255.20" y2="394.80" stroke="#2a2a2a" stroke-width="0.8" />
<text x="250.40" y="525.36" font-size="8.7" text-anchor="end" font-weight="normal" fill="#1c1c1c" >0</text>
<text x="250.40" y="502.16" font-size="8.7" text-anchor="end" font-weight="normal" fill="#1c1c1c" >10</text>
<text x="250.40" y="478.96" font-size="8.7" text-anchor="end" font-weight="normal" fill="#1c1c1c" >20</text>
<text x="250.40" y="455.76" font-size="8.7" text-anchor="end" font-weight="normal" fill="#1c1c1c" >30</text>
<text x="250.40" y="432.56" font-size="8.7" text-anchor="end" font-weight="normal" fill="#1c1c1c" >40</text>
<text x="250.40" y="409.36" font-size="8.7" text-anchor="end" font-weight="normal" fill="#1c1c1c" >50</text>
<line x1="254.70" y1="522.40" x2="428.00" y2="522.40" stroke="#2a2a2a" stroke-width="1.0" />
<line x1="284.30" y1="522.40" x2="284.30" y2="525.00" stroke="#2a2a2a" stroke-width="0.9" />
<line x1="341.80" y1="522.40" x2="341.80" y2="525.00" stroke="#2a2a2a" stroke-width="0.9" />
<line x1="399.20" y1="522.40" x2="399.20" y2="525.00" stroke="#2a2a2a" stroke-width="0.9" />
<line x1="255.20" y1="522.40" x2="255.20" y2="523.80" stroke="#2a2a2a" stroke-width="0.8" />
<line x1="313.00" y1="522.40" x2="313.00" y2="523.80" stroke="#2a2a2a" stroke-width="0.8" />
<line x1="370.50" y1="522.40" x2="370.50" y2="523.80" stroke="#2a2a2a" stroke-width="0.8" />
<line x1="428.00" y1="522.40" x2="428.00" y2="523.80" stroke="#2a2a2a" stroke-width="0.8" />
<line x1="510.60" y1="219.20" x2="510.60" y2="347.80" stroke="#2a2a2a" stroke-width="1.0" />
<line x1="508.00" y1="347.30" x2="510.60" y2="347.30" stroke="#2a2a2a" stroke-width="0.9" />
<line x1="508.00" y1="334.55" x2="510.60" y2="334.55" stroke="#2a2a2a" stroke-width="0.9" />
<line x1="508.00" y1="321.80" x2="510.60" y2="321.80" stroke="#2a2a2a" stroke-width="0.9" />
<line x1="508.00" y1="309.05" x2="510.60" y2="309.05" stroke="#2a2a2a" stroke-width="0.9" />
<line x1="508.00" y1="296.30" x2="510.60" y2="296.30" stroke="#2a2a2a" stroke-width="0.9" />
<line x1="508.00" y1="283.55" x2="510.60" y2="283.55" stroke="#2a2a2a" stroke-width="0.9" />
<line x1="508.00" y1="270.80" x2="510.60" y2="270.80" stroke="#2a2a2a" stroke-width="0.9" />
<line x1="508.00" y1="258.05" x2="510.60" y2="258.05" stroke="#2a2a2a" stroke-width="0.9" />
<line x1="508.00" y1="245.30" x2="510.60" y2="245.30" stroke="#2a2a2a" stroke-width="0.9" />
<line x1="508.00" y1="232.55" x2="510.60" y2="232.55" stroke="#2a2a2a" stroke-width="0.9" />
<line x1="508.00" y1="219.80" x2="510.60" y2="219.80" stroke="#2a2a2a" stroke-width="0.9" />
<line x1="509.20" y1="340.93" x2="510.60" y2="340.93" stroke="#2a2a2a" stroke-width="0.8" />
<line x1="509.20" y1="328.18" x2="510.60" y2="328.18" stroke="#2a2a2a" stroke-width="0.8" />
<line x1="509.20" y1="315.43" x2="510.60" y2="315.43" stroke="#2a2a2a" stroke-width="0.8" />
<line x1="509.20" y1="302.68" x2="510.60" y2="302.68" stroke="#2a2a2a" stroke-width="0.8" />
<line x1="509.20" y1="289.93" x2="510.60" y2="289.93" stroke="#2a2a2a" stroke-width="0.8" />
<line x1="509.20" y1="277.18" x2="510.60" y2="277.18" stroke="#2a2a2a" stroke-width="0.8" />
<line x1="509.20" y1="264.43" x2="510.60" y2="264.43" stroke="#2a2a2a" stroke-width="0.8" />
<line x1="509.20" y1="251.68" x2="510.60" y2="251.68" stroke="#2a2a2a" stroke-width="0.8" />
<line x1="509.20" y1="238.93" x2="510.60" y2="238.93" stroke="#2a2a2a" stroke-width="0.8" />
<line x1="509.20" y1="226.18" x2="510.60" y2="226.18" stroke="#2a2a2a" stroke-width="0.8" />
<text x="505.90" y="350.26" font-size="8.7" text-anchor="end" font-weight="normal" fill="#1c1c1c" >0.0</text>
<text x="505.90" y="337.51" font-size="8.7" text-anchor="end" font-weight="normal" fill="#1c1c1c" >0.5</text>
<text x="505.90" y="324.76" font-size="8.7" text-anchor="end" font-weight="normal" fill="#1c1c1c" >1.0</text>
<text x="505.90" y="312.01" font-size="8.7" text-anchor="end" font-weight="normal" fill="#1c1c1c" >1.5</text>
<text x="505.90" y="299.26" font-size="8.7" text-anchor="end" font-weight="normal" fill="#1c1c1c" >2.0</text>
<text x="505.90" y="286.51" font-size="8.7" text-anchor="end" font-weight="normal" fill="#1c1c1c" >2.5</text>
<text x="505.90" y="273.76" font-size="8.7" text-anchor="end" font-weight="normal" fill="#1c1c1c" >3.0</text>
<text x="505.90" y="261.01" font-size="8.7" text-anchor="end" font-weight="normal" fill="#1c1c1c" >3.5</text>
<text x="505.90" y="248.26" font-size="8.7" text-anchor="end" font-weight="normal" fill="#1c1c1c" >4.0</text>
<text x="505.90" y="235.51" font-size="8.7" text-anchor="end" font-weight="normal" fill="#1c1c1c" >4.5</text>
<text x="505.90" y="222.76" font-size="8.7" text-anchor="end" font-weight="normal" fill="#1c1c1c" >5.0</text>
<line x1="510.10" y1="347.30" x2="683.60" y2="347.30" stroke="#2a2a2a" stroke-width="1.0" />
<line x1="553.80" y1="347.30" x2="553.80" y2="349.90" stroke="#2a2a2a" stroke-width="0.9" />
<line x1="640.30" y1="347.30" x2="640.30" y2="349.90" stroke="#2a2a2a" stroke-width="0.9" />
<line x1="597.10" y1="347.30" x2="597.10" y2="348.70" stroke="#2a2a2a" stroke-width="0.8" />
<line x1="683.60" y1="347.30" x2="683.60" y2="348.70" stroke="#2a2a2a" stroke-width="0.8" />
<line x1="510.20" y1="394.80" x2="510.20" y2="522.90" stroke="#2a2a2a" stroke-width="1.0" />
<line x1="507.60" y1="522.40" x2="510.20" y2="522.40" stroke="#2a2a2a" stroke-width="0.9" />
<line x1="507.60" y1="509.70" x2="510.20" y2="509.70" stroke="#2a2a2a" stroke-width="0.9" />
<line x1="507.60" y1="497.00" x2="510.20" y2="497.00" stroke="#2a2a2a" stroke-width="0.9" />
<line x1="507.60" y1="484.30" x2="510.20" y2="484.30" stroke="#2a2a2a" stroke-width="0.9" />
<line x1="507.60" y1="471.60" x2="510.20" y2="471.60" stroke="#2a2a2a" stroke-width="0.9" />
<line x1="507.60" y1="458.90" x2="510.20" y2="458.90" stroke="#2a2a2a" stroke-width="0.9" />
<line x1="507.60" y1="446.20" x2="510.20" y2="446.20" stroke="#2a2a2a" stroke-width="0.9" />
<line x1="507.60" y1="433.50" x2="510.20" y2="433.50" stroke="#2a2a2a" stroke-width="0.9" />
<line x1="507.60" y1="420.80" x2="510.20" y2="420.80" stroke="#2a2a2a" stroke-width="0.9" />
<line x1="507.60" y1="408.10" x2="510.20" y2="408.10" stroke="#2a2a2a" stroke-width="0.9" />
<line x1="507.60" y1="395.40" x2="510.20" y2="395.40" stroke="#2a2a2a" stroke-width="0.9" />
<line x1="508.80" y1="516.05" x2="510.20" y2="516.05" stroke="#2a2a2a" stroke-width="0.8" />
<line x1="508.80" y1="503.35" x2="510.20" y2="503.35" stroke="#2a2a2a" stroke-width="0.8" />
<line x1="508.80" y1="490.65" x2="510.20" y2="490.65" stroke="#2a2a2a" stroke-width="0.8" />
<line x1="508.80" y1="477.95" x2="510.20" y2="477.95" stroke="#2a2a2a" stroke-width="0.8" />
<line x1="508.80" y1="465.25" x2="510.20" y2="465.25" stroke="#2a2a2a" stroke-width="0.8" />
<line x1="508.80" y1="452.55" x2="510.20" y2="452.55" stroke="#2a2a2a" stroke-width="0.8" />
<line x1="508.80" y1="439.85" x2="510.20" y2="439.85" stroke="#2a2a2a" stroke-width="0.8" />
<line x1="508.80" y1="427.15" x2="510.20" y2="427.15" stroke="#2a2a2a" stroke-width="0.8" />
<line x1="508.80" y1="414.45" x2="510.20" y2="414.45" stroke="#2a2a2a" stroke-width="0.8" />
<line x1="508.80" y1="401.75" x2="510.20" y2="401.75" stroke="#2a2a2a" stroke-width="0.8" />
<text x="505.50" y="525.36" font-size="8.7" text-anchor="end" font-weight="normal" fill="#1c1c1c" >0.0</text>
<text x="505.50" y="512.66" font-size="8.7" text-anchor="end" font-weight="normal" fill="#1c1c1c" >0.5</text>
<text x="505.50" y="499.96" font-size="8.7" text-anchor="end" font-weight="normal" fill="#1c1c1c" >1.0</text>
<text x="505.50" y="487.26" font-size="8.7" text-anchor="end" font-weight="normal" fill="#1c1c1c" >1.5</text>
<text x="505.50" y="474.56" font-size="8.7" text-anchor="end" font-weight="normal" fill="#1c1c1c" >2.0</text>
<text x="505.50" y="461.86" font-size="8.7" text-anchor="end" font-weight="normal" fill="#1c1c1c" >2.5</text>
<text x="505.50" y="449.16" font-size="8.7" text-anchor="end" font-weight="normal" fill="#1c1c1c" >3.0</text>
<text x="505.50" y="436.46" font-size="8.7" text-anchor="end" font-weight="normal" fill="#1c1c1c" >3.5</text>
<text x="505.50" y="423.76" font-size="8.7" text-anchor="end" font-weight="normal" fill="#1c1c1c" >4.0</text>
<text x="505.50" y="411.06" font-size="8.7" text-anchor="end" font-weight="normal" fill="#1c1c1c" >4.5</text>
<text x="505.50" y="398.36" font-size="8.7" text-anchor="end" font-weight="normal" fill="#1c1c1c" >5.0</text>
<line x1="509.70" y1="522.40" x2="683.70" y2="522.40" stroke="#2a2a2a" stroke-width="1.0" />
<line x1="553.20" y1="522.40" x2="553.20" y2="525.00" stroke="#2a2a2a" stroke-width="0.9" />
<line x1="639.90" y1="522.40" x2="639.90" y2="525.00" stroke="#2a2a2a" stroke-width="0.9" />
<line x1="596.50" y1="522.40" x2="596.50" y2="523.80" stroke="#2a2a2a" stroke-width="0.8" />
<line x1="683.70" y1="522.40" x2="683.70" y2="523.80" stroke="#2a2a2a" stroke-width="0.8" />
</svg></body></html>
